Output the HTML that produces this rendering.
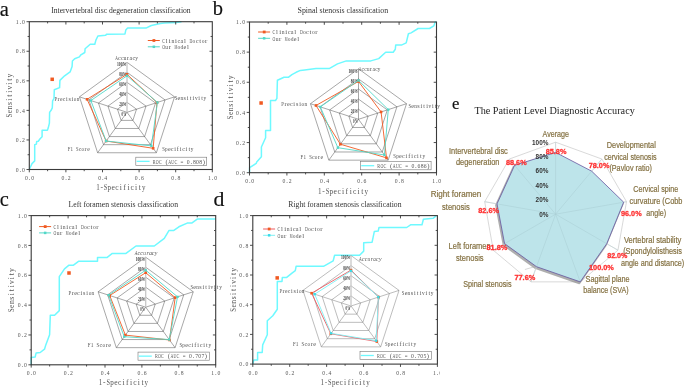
<!DOCTYPE html>
<html><head><meta charset="utf-8"><style>
html,body{margin:0;padding:0;background:#fff;width:685px;height:387px;overflow:hidden}
svg{display:block;will-change:transform}
</style></head><body>
<svg width="685" height="387" viewBox="0 0 685 387">
<defs><filter id="blur1" x="-10%" y="-10%" width="120%" height="120%"><feGaussianBlur stdDeviation="0.7"/></filter></defs>
<rect width="685" height="387" fill="#fff"/>
<polyline points="29.3,169.5 32,163.6 34.7,160.9 34.7,144.8 36.4,144.1 36.7,141.4 38.3,141.2 40.1,138.8 42.1,136.8 42.1,130.3 47.4,130.3 48.2,128.1 49.4,123.1 49.6,112.4 51.1,110.3 52.3,107.9 52.6,100.8 54,98.4 54.3,89.7 59.6,87.6 59.9,80.4 64.6,75.8 70.1,71.9 72.1,66.5 72.4,61 74.7,58.7 79.4,56.9 80.9,54.8 84.8,52.5 85.1,48.7 90.2,44.3 94.8,44.3 95.9,40.1 97.9,36 105.7,35.2 106.5,34.2 125,33.9 125.8,30.1 127.6,28.1 146,28.1 151.3,25.5 160.5,23.5 164.4,22.9 176.2,22.6 181.5,21.8" fill="none" stroke="#6ef9ff" stroke-width="1.5" stroke-linejoin="round"/>
<rect x="29.3" y="21.7" width="183" height="147.8" fill="none" stroke="#3a3a3a" stroke-width="1.1"/>
<line x1="29.3" y1="169.5" x2="29.3" y2="172.3" stroke="#3a3a3a" stroke-width="0.9"/>
<line x1="29.3" y1="169.5" x2="26.5" y2="169.5" stroke="#3a3a3a" stroke-width="0.9"/>
<text x="19.54" y="171.7" font-family='"Liberation Serif", serif' font-size="6.5" fill="#555">.</text>
<text x="15.82" y="171.7" font-family='"Liberation Serif", serif' font-size="6.5" fill="#555" textLength="2.85" lengthAdjust="spacingAndGlyphs">0</text>
<text x="22.02" y="171.7" font-family='"Liberation Serif", serif' font-size="6.5" fill="#555" textLength="2.85" lengthAdjust="spacingAndGlyphs">0</text>
<text x="28.69" y="179.9" font-family='"Liberation Serif", serif' font-size="6.5" fill="#555">.</text>
<text x="24.97" y="179.9" font-family='"Liberation Serif", serif' font-size="6.5" fill="#555" textLength="2.85" lengthAdjust="spacingAndGlyphs">0</text>
<text x="31.17" y="179.9" font-family='"Liberation Serif", serif' font-size="6.5" fill="#555" textLength="2.85" lengthAdjust="spacingAndGlyphs">0</text>
<line x1="47.6" y1="169.5" x2="47.6" y2="171.2" stroke="#3a3a3a" stroke-width="0.9"/>
<line x1="47.6" y1="21.7" x2="47.6" y2="23.4" stroke="#3a3a3a" stroke-width="0.9"/>
<line x1="29.3" y1="154.72" x2="27.6" y2="154.72" stroke="#3a3a3a" stroke-width="0.9"/>
<line x1="212.3" y1="154.72" x2="210.6" y2="154.72" stroke="#3a3a3a" stroke-width="0.9"/>
<line x1="65.9" y1="169.5" x2="65.9" y2="172.3" stroke="#3a3a3a" stroke-width="0.9"/>
<line x1="65.9" y1="21.7" x2="65.9" y2="24.5" stroke="#3a3a3a" stroke-width="0.9"/>
<line x1="29.3" y1="139.94" x2="26.5" y2="139.94" stroke="#3a3a3a" stroke-width="0.9"/>
<line x1="212.3" y1="139.94" x2="209.5" y2="139.94" stroke="#3a3a3a" stroke-width="0.9"/>
<text x="19.54" y="142.14" font-family='"Liberation Serif", serif' font-size="6.5" fill="#555">.</text>
<text x="15.82" y="142.14" font-family='"Liberation Serif", serif' font-size="6.5" fill="#555" textLength="2.85" lengthAdjust="spacingAndGlyphs">0</text>
<text x="22.02" y="142.14" font-family='"Liberation Serif", serif' font-size="6.5" fill="#555" textLength="2.85" lengthAdjust="spacingAndGlyphs">2</text>
<text x="65.29" y="179.9" font-family='"Liberation Serif", serif' font-size="6.5" fill="#555">.</text>
<text x="61.57" y="179.9" font-family='"Liberation Serif", serif' font-size="6.5" fill="#555" textLength="2.85" lengthAdjust="spacingAndGlyphs">0</text>
<text x="67.77" y="179.9" font-family='"Liberation Serif", serif' font-size="6.5" fill="#555" textLength="2.85" lengthAdjust="spacingAndGlyphs">2</text>
<line x1="84.2" y1="169.5" x2="84.2" y2="171.2" stroke="#3a3a3a" stroke-width="0.9"/>
<line x1="84.2" y1="21.7" x2="84.2" y2="23.4" stroke="#3a3a3a" stroke-width="0.9"/>
<line x1="29.3" y1="125.16" x2="27.6" y2="125.16" stroke="#3a3a3a" stroke-width="0.9"/>
<line x1="212.3" y1="125.16" x2="210.6" y2="125.16" stroke="#3a3a3a" stroke-width="0.9"/>
<line x1="102.5" y1="169.5" x2="102.5" y2="172.3" stroke="#3a3a3a" stroke-width="0.9"/>
<line x1="102.5" y1="21.7" x2="102.5" y2="24.5" stroke="#3a3a3a" stroke-width="0.9"/>
<line x1="29.3" y1="110.38" x2="26.5" y2="110.38" stroke="#3a3a3a" stroke-width="0.9"/>
<line x1="212.3" y1="110.38" x2="209.5" y2="110.38" stroke="#3a3a3a" stroke-width="0.9"/>
<text x="19.54" y="112.58" font-family='"Liberation Serif", serif' font-size="6.5" fill="#555">.</text>
<text x="15.82" y="112.58" font-family='"Liberation Serif", serif' font-size="6.5" fill="#555" textLength="2.85" lengthAdjust="spacingAndGlyphs">0</text>
<text x="22.02" y="112.58" font-family='"Liberation Serif", serif' font-size="6.5" fill="#555" textLength="2.85" lengthAdjust="spacingAndGlyphs">4</text>
<text x="101.89" y="179.9" font-family='"Liberation Serif", serif' font-size="6.5" fill="#555">.</text>
<text x="98.17" y="179.9" font-family='"Liberation Serif", serif' font-size="6.5" fill="#555" textLength="2.85" lengthAdjust="spacingAndGlyphs">0</text>
<text x="104.37" y="179.9" font-family='"Liberation Serif", serif' font-size="6.5" fill="#555" textLength="2.85" lengthAdjust="spacingAndGlyphs">4</text>
<line x1="120.8" y1="169.5" x2="120.8" y2="171.2" stroke="#3a3a3a" stroke-width="0.9"/>
<line x1="120.8" y1="21.7" x2="120.8" y2="23.4" stroke="#3a3a3a" stroke-width="0.9"/>
<line x1="29.3" y1="95.6" x2="27.6" y2="95.6" stroke="#3a3a3a" stroke-width="0.9"/>
<line x1="212.3" y1="95.6" x2="210.6" y2="95.6" stroke="#3a3a3a" stroke-width="0.9"/>
<line x1="139.1" y1="169.5" x2="139.1" y2="172.3" stroke="#3a3a3a" stroke-width="0.9"/>
<line x1="139.1" y1="21.7" x2="139.1" y2="24.5" stroke="#3a3a3a" stroke-width="0.9"/>
<line x1="29.3" y1="80.82" x2="26.5" y2="80.82" stroke="#3a3a3a" stroke-width="0.9"/>
<line x1="212.3" y1="80.82" x2="209.5" y2="80.82" stroke="#3a3a3a" stroke-width="0.9"/>
<text x="19.54" y="83.02" font-family='"Liberation Serif", serif' font-size="6.5" fill="#555">.</text>
<text x="15.82" y="83.02" font-family='"Liberation Serif", serif' font-size="6.5" fill="#555" textLength="2.85" lengthAdjust="spacingAndGlyphs">0</text>
<text x="22.02" y="83.02" font-family='"Liberation Serif", serif' font-size="6.5" fill="#555" textLength="2.85" lengthAdjust="spacingAndGlyphs">6</text>
<text x="138.49" y="179.9" font-family='"Liberation Serif", serif' font-size="6.5" fill="#555">.</text>
<text x="134.77" y="179.9" font-family='"Liberation Serif", serif' font-size="6.5" fill="#555" textLength="2.85" lengthAdjust="spacingAndGlyphs">0</text>
<text x="140.97" y="179.9" font-family='"Liberation Serif", serif' font-size="6.5" fill="#555" textLength="2.85" lengthAdjust="spacingAndGlyphs">6</text>
<line x1="157.4" y1="169.5" x2="157.4" y2="171.2" stroke="#3a3a3a" stroke-width="0.9"/>
<line x1="157.4" y1="21.7" x2="157.4" y2="23.4" stroke="#3a3a3a" stroke-width="0.9"/>
<line x1="29.3" y1="66.04" x2="27.6" y2="66.04" stroke="#3a3a3a" stroke-width="0.9"/>
<line x1="212.3" y1="66.04" x2="210.6" y2="66.04" stroke="#3a3a3a" stroke-width="0.9"/>
<line x1="175.7" y1="169.5" x2="175.7" y2="172.3" stroke="#3a3a3a" stroke-width="0.9"/>
<line x1="175.7" y1="21.7" x2="175.7" y2="24.5" stroke="#3a3a3a" stroke-width="0.9"/>
<line x1="29.3" y1="51.26" x2="26.5" y2="51.26" stroke="#3a3a3a" stroke-width="0.9"/>
<line x1="212.3" y1="51.26" x2="209.5" y2="51.26" stroke="#3a3a3a" stroke-width="0.9"/>
<text x="19.54" y="53.46" font-family='"Liberation Serif", serif' font-size="6.5" fill="#555">.</text>
<text x="15.82" y="53.46" font-family='"Liberation Serif", serif' font-size="6.5" fill="#555" textLength="2.85" lengthAdjust="spacingAndGlyphs">0</text>
<text x="22.02" y="53.46" font-family='"Liberation Serif", serif' font-size="6.5" fill="#555" textLength="2.85" lengthAdjust="spacingAndGlyphs">8</text>
<text x="175.09" y="179.9" font-family='"Liberation Serif", serif' font-size="6.5" fill="#555">.</text>
<text x="171.37" y="179.9" font-family='"Liberation Serif", serif' font-size="6.5" fill="#555" textLength="2.85" lengthAdjust="spacingAndGlyphs">0</text>
<text x="177.57" y="179.9" font-family='"Liberation Serif", serif' font-size="6.5" fill="#555" textLength="2.85" lengthAdjust="spacingAndGlyphs">8</text>
<line x1="194" y1="169.5" x2="194" y2="171.2" stroke="#3a3a3a" stroke-width="0.9"/>
<line x1="194" y1="21.7" x2="194" y2="23.4" stroke="#3a3a3a" stroke-width="0.9"/>
<line x1="29.3" y1="36.48" x2="27.6" y2="36.48" stroke="#3a3a3a" stroke-width="0.9"/>
<line x1="212.3" y1="36.48" x2="210.6" y2="36.48" stroke="#3a3a3a" stroke-width="0.9"/>
<line x1="212.3" y1="169.5" x2="212.3" y2="172.3" stroke="#3a3a3a" stroke-width="0.9"/>
<line x1="29.3" y1="21.7" x2="26.5" y2="21.7" stroke="#3a3a3a" stroke-width="0.9"/>
<text x="19.54" y="23.9" font-family='"Liberation Serif", serif' font-size="6.5" fill="#555">.</text>
<text x="15.82" y="23.9" font-family='"Liberation Serif", serif' font-size="6.5" fill="#555" textLength="2.85" lengthAdjust="spacingAndGlyphs">1</text>
<text x="22.02" y="23.9" font-family='"Liberation Serif", serif' font-size="6.5" fill="#555" textLength="2.85" lengthAdjust="spacingAndGlyphs">0</text>
<text x="211.69" y="179.9" font-family='"Liberation Serif", serif' font-size="6.5" fill="#555">.</text>
<text x="207.97" y="179.9" font-family='"Liberation Serif", serif' font-size="6.5" fill="#555" textLength="2.85" lengthAdjust="spacingAndGlyphs">1</text>
<text x="214.17" y="179.9" font-family='"Liberation Serif", serif' font-size="6.5" fill="#555" textLength="2.85" lengthAdjust="spacingAndGlyphs">0</text>
<text x="100.46 111.48 115.3 119.74 123.35 127.38 130.56 135.01 138.82" y="189.9" font-family='"Liberation Serif", serif' font-size="7.6" fill="#555">-ecificit</text>
<text x="96.15" y="189.9" font-family='"Liberation Serif", serif' font-size="7.6" fill="#555" textLength="3.51" lengthAdjust="spacingAndGlyphs">1</text>
<text x="103.78" y="189.9" font-family='"Liberation Serif", serif' font-size="7.6" fill="#555" textLength="3.51" lengthAdjust="spacingAndGlyphs">S</text>
<text x="107.6" y="189.9" font-family='"Liberation Serif", serif' font-size="7.6" fill="#555" textLength="3.51" lengthAdjust="spacingAndGlyphs">p</text>
<text x="141.94" y="189.9" font-family='"Liberation Serif", serif' font-size="7.6" fill="#555" textLength="3.51" lengthAdjust="spacingAndGlyphs">y</text>
<g transform="translate(12.2,95.6) rotate(-90)">
<text x="-17.69 -13.9 -9.48 -5.06 -1.06 2.94 6.1 10.94 14.94 18.1" y="0" font-family='"Liberation Serif", serif' font-size="7.6" fill="#555">ensitivity</text>
<text x="-21.84" y="0" font-family='"Liberation Serif", serif' font-size="7.6" fill="#555" textLength="3.68" lengthAdjust="spacingAndGlyphs">S</text>
</g>
<rect x="50.45" y="77.55" width="3.5" height="3.5" fill="#f05a22"/>
<line x1="147.8" y1="40.5" x2="159.8" y2="40.5" stroke="#f05a22" stroke-width="1"/>
<rect x="152.5" y="39.1" width="2.8" height="2.8" fill="#f05a22"/>
<line x1="147.8" y1="46.8" x2="159.8" y2="46.8" stroke="#52d8c8" stroke-width="1"/>
<rect x="152.6" y="45.55" width="2.5" height="2.5" fill="#52d8c8"/>
<text x="165.8 168.83 174.89 183.98 199.13 205" y="42.8" font-family='"Liberation Serif", serif' font-size="6.8" fill="#555">liiltr</text>
<text x="162.32" y="42.8" font-family='"Liberation Serif", serif' font-size="6.8" fill="#555" textLength="2.79" lengthAdjust="spacingAndGlyphs">C</text>
<text x="171.41" y="42.8" font-family='"Liberation Serif", serif' font-size="6.8" fill="#555" textLength="2.79" lengthAdjust="spacingAndGlyphs">n</text>
<text x="177.47" y="42.8" font-family='"Liberation Serif", serif' font-size="6.8" fill="#555" textLength="2.79" lengthAdjust="spacingAndGlyphs">c</text>
<text x="180.5" y="42.8" font-family='"Liberation Serif", serif' font-size="6.8" fill="#555" textLength="2.79" lengthAdjust="spacingAndGlyphs">a</text>
<text x="189.59" y="42.8" font-family='"Liberation Serif", serif' font-size="6.8" fill="#555" textLength="2.79" lengthAdjust="spacingAndGlyphs">D</text>
<text x="192.62" y="42.8" font-family='"Liberation Serif", serif' font-size="6.8" fill="#555" textLength="2.79" lengthAdjust="spacingAndGlyphs">o</text>
<text x="195.65" y="42.8" font-family='"Liberation Serif", serif' font-size="6.8" fill="#555" textLength="2.79" lengthAdjust="spacingAndGlyphs">c</text>
<text x="201.71" y="42.8" font-family='"Liberation Serif", serif' font-size="6.8" fill="#555" textLength="2.79" lengthAdjust="spacingAndGlyphs">o</text>
<text x="168.64 187.01" y="49.1" font-family='"Liberation Serif", serif' font-size="6.8" fill="#555">rl</text>
<text x="162.32" y="49.1" font-family='"Liberation Serif", serif' font-size="6.8" fill="#555" textLength="2.79" lengthAdjust="spacingAndGlyphs">O</text>
<text x="165.35" y="49.1" font-family='"Liberation Serif", serif' font-size="6.8" fill="#555" textLength="2.79" lengthAdjust="spacingAndGlyphs">u</text>
<text x="174.44" y="49.1" font-family='"Liberation Serif", serif' font-size="6.8" fill="#555" textLength="2.79" lengthAdjust="spacingAndGlyphs">M</text>
<text x="177.47" y="49.1" font-family='"Liberation Serif", serif' font-size="6.8" fill="#555" textLength="2.79" lengthAdjust="spacingAndGlyphs">o</text>
<text x="180.5" y="49.1" font-family='"Liberation Serif", serif' font-size="6.8" fill="#555" textLength="2.79" lengthAdjust="spacingAndGlyphs">d</text>
<text x="183.53" y="49.1" font-family='"Liberation Serif", serif' font-size="6.8" fill="#555" textLength="2.79" lengthAdjust="spacingAndGlyphs">e</text>
<rect x="135.8" y="157.2" width="70.9" height="8.3" fill="#fff" stroke="#777" stroke-width="0.6"/>
<line x1="136.6" y1="161.35" x2="149.6" y2="161.35" stroke="#6ef9ff" stroke-width="1.3"/>
<text x="165.43 190.51 202.63" y="163.65" font-family='"Liberation Serif", serif' font-size="6.7" fill="#555">(.)</text>
<text x="152.72" y="163.65" font-family='"Liberation Serif", serif' font-size="6.7" fill="#555" textLength="2.85" lengthAdjust="spacingAndGlyphs">R</text>
<text x="155.82" y="163.65" font-family='"Liberation Serif", serif' font-size="6.7" fill="#555" textLength="2.85" lengthAdjust="spacingAndGlyphs">O</text>
<text x="158.92" y="163.65" font-family='"Liberation Serif", serif' font-size="6.7" fill="#555" textLength="2.85" lengthAdjust="spacingAndGlyphs">C</text>
<text x="168.22" y="163.65" font-family='"Liberation Serif", serif' font-size="6.7" fill="#555" textLength="2.85" lengthAdjust="spacingAndGlyphs">A</text>
<text x="171.32" y="163.65" font-family='"Liberation Serif", serif' font-size="6.7" fill="#555" textLength="2.85" lengthAdjust="spacingAndGlyphs">U</text>
<text x="174.42" y="163.65" font-family='"Liberation Serif", serif' font-size="6.7" fill="#555" textLength="2.85" lengthAdjust="spacingAndGlyphs">C</text>
<text x="180.62" y="163.65" font-family='"Liberation Serif", serif' font-size="6.7" fill="#555" textLength="2.85" lengthAdjust="spacingAndGlyphs">=</text>
<text x="186.82" y="163.65" font-family='"Liberation Serif", serif' font-size="6.7" fill="#555" textLength="2.85" lengthAdjust="spacingAndGlyphs">0</text>
<text x="193.02" y="163.65" font-family='"Liberation Serif", serif' font-size="6.7" fill="#555" textLength="2.85" lengthAdjust="spacingAndGlyphs">8</text>
<text x="196.12" y="163.65" font-family='"Liberation Serif", serif' font-size="6.7" fill="#555" textLength="2.85" lengthAdjust="spacingAndGlyphs">0</text>
<text x="199.22" y="163.65" font-family='"Liberation Serif", serif' font-size="6.7" fill="#555" textLength="2.85" lengthAdjust="spacingAndGlyphs">8</text>
<text x="51.2" y="13.3" font-family='"Liberation Serif", serif' font-size="8.6" text-anchor="start" fill="#333" font-weight="normal" textLength="139.5" lengthAdjust="spacingAndGlyphs">Intervertebral disc degeneration classification</text>
<text x="-0.3" y="15.5" font-family='"Liberation Serif", serif' font-size="20.5" text-anchor="start" fill="#111" font-weight="normal" stroke="#111" stroke-width="0.15">a</text>
<polygon points="127,102.3 136.51,109.21 132.88,120.39 121.12,120.39 117.49,109.21" fill="none" stroke="#505050" stroke-width="0.5" stroke-linejoin="round"/>
<polygon points="127,92.3 146.02,106.12 138.76,128.48 115.24,128.48 107.98,106.12" fill="none" stroke="#505050" stroke-width="0.5" stroke-linejoin="round"/>
<polygon points="127,82.3 155.53,103.03 144.63,136.57 109.37,136.57 98.47,103.03" fill="none" stroke="#505050" stroke-width="0.5" stroke-linejoin="round"/>
<polygon points="127,72.3 165.04,99.94 150.51,144.66 103.49,144.66 88.96,99.94" fill="none" stroke="#505050" stroke-width="0.5" stroke-linejoin="round"/>
<polygon points="127,62.3 174.55,96.85 156.39,152.75 97.61,152.75 79.45,96.85" fill="none" stroke="#505050" stroke-width="0.5" stroke-linejoin="round"/>
<line x1="127" y1="112.3" x2="174.55" y2="96.85" stroke="#505050" stroke-width="0.5"/>
<line x1="127" y1="112.3" x2="156.39" y2="152.75" stroke="#505050" stroke-width="0.5"/>
<line x1="127" y1="112.3" x2="97.61" y2="152.75" stroke="#505050" stroke-width="0.5"/>
<line x1="127" y1="112.3" x2="79.45" y2="96.85" stroke="#505050" stroke-width="0.5"/>
<line x1="127" y1="112.3" x2="127" y2="62.3" stroke="#c8c8c8" stroke-width="1.3"/>
<text x="126.2" y="116.2" font-family='"Liberation Serif", serif' font-size="5.3" text-anchor="end" fill="#3a3a3a" font-weight="bold" textLength="4.6" lengthAdjust="spacingAndGlyphs">0%</text>
<text x="126.2" y="106.2" font-family='"Liberation Serif", serif' font-size="5.3" text-anchor="end" fill="#3a3a3a" font-weight="bold" textLength="6.9" lengthAdjust="spacingAndGlyphs">20%</text>
<text x="126.2" y="96.2" font-family='"Liberation Serif", serif' font-size="5.3" text-anchor="end" fill="#3a3a3a" font-weight="bold" textLength="6.9" lengthAdjust="spacingAndGlyphs">40%</text>
<text x="126.2" y="86.2" font-family='"Liberation Serif", serif' font-size="5.3" text-anchor="end" fill="#3a3a3a" font-weight="bold" textLength="6.9" lengthAdjust="spacingAndGlyphs">60%</text>
<text x="126.2" y="76.2" font-family='"Liberation Serif", serif' font-size="5.3" text-anchor="end" fill="#3a3a3a" font-weight="bold" textLength="6.9" lengthAdjust="spacingAndGlyphs">80%</text>
<text x="126.2" y="66.2" font-family='"Liberation Serif", serif' font-size="5.3" text-anchor="end" fill="#3a3a3a" font-weight="bold" textLength="9.2" lengthAdjust="spacingAndGlyphs">100%</text>
<polygon points="127,74.3 156.96,102.57 153.16,148.3 106.13,141.02 87.06,99.32" fill="none" stroke="#f05a22" stroke-width="0.9" stroke-linejoin="round"/>
<rect x="125.7" y="73" width="2.6" height="2.6" fill="#f05a22"/>
<rect x="155.66" y="101.27" width="2.6" height="2.6" fill="#f05a22"/>
<rect x="151.86" y="147" width="2.6" height="2.6" fill="#f05a22"/>
<rect x="104.83" y="139.72" width="2.6" height="2.6" fill="#f05a22"/>
<rect x="85.76" y="98.02" width="2.6" height="2.6" fill="#f05a22"/>
<polygon points="127,75.8 157.43,102.41 151.39,145.87 106.13,141.02 90.86,100.56" fill="none" stroke="#52d8c8" stroke-width="0.9" stroke-linejoin="round"/>
<rect x="125.85" y="74.65" width="2.3" height="2.3" fill="#52d8c8"/>
<rect x="156.28" y="101.26" width="2.3" height="2.3" fill="#52d8c8"/>
<rect x="150.24" y="144.72" width="2.3" height="2.3" fill="#52d8c8"/>
<rect x="104.98" y="139.87" width="2.3" height="2.3" fill="#52d8c8"/>
<rect x="89.71" y="99.41" width="2.3" height="2.3" fill="#52d8c8"/>
<text x="118.06 120.93 127.02 129.56 132.43" y="60" font-family='"Liberation Serif", serif' font-size="6.1" fill="#555">ccrac</text>
<text x="115.21" y="60" font-family='"Liberation Serif", serif' font-size="6.1" fill="#555" textLength="2.65" lengthAdjust="spacingAndGlyphs">A</text>
<text x="123.84" y="60" font-family='"Liberation Serif", serif' font-size="6.1" fill="#555" textLength="2.65" lengthAdjust="spacingAndGlyphs">u</text>
<text x="135.34" y="60" font-family='"Liberation Serif", serif' font-size="6.1" fill="#555" textLength="2.65" lengthAdjust="spacingAndGlyphs">y</text>
<text x="177.58 183.53 186.76 189.65 192.54 198.33 201.22" y="100.2" font-family='"Liberation Serif", serif' font-size="6.1" fill="#555">esitiit</text>
<text x="174.72" y="100.2" font-family='"Liberation Serif", serif' font-size="6.1" fill="#555" textLength="2.66" lengthAdjust="spacingAndGlyphs">S</text>
<text x="180.5" y="100.2" font-family='"Liberation Serif", serif' font-size="6.1" fill="#555" textLength="2.66" lengthAdjust="spacingAndGlyphs">n</text>
<text x="194.95" y="100.2" font-family='"Liberation Serif", serif' font-size="6.1" fill="#555" textLength="2.66" lengthAdjust="spacingAndGlyphs">v</text>
<text x="203.62" y="100.2" font-family='"Liberation Serif", serif' font-size="6.1" fill="#555" textLength="2.66" lengthAdjust="spacingAndGlyphs">y</text>
<text x="167.91 170.77 174.14 176.83 179.87 182.22 185.59 188.46" y="151" font-family='"Liberation Serif", serif' font-size="6.1" fill="#555">ecificit</text>
<text x="162.21" y="151" font-family='"Liberation Serif", serif' font-size="6.1" fill="#555" textLength="2.63" lengthAdjust="spacingAndGlyphs">S</text>
<text x="165.08" y="151" font-family='"Liberation Serif", serif' font-size="6.1" fill="#555" textLength="2.63" lengthAdjust="spacingAndGlyphs">p</text>
<text x="190.85" y="151" font-family='"Liberation Serif", serif' font-size="6.1" fill="#555" textLength="2.63" lengthAdjust="spacingAndGlyphs">y</text>
<text x="84.62" y="151" font-family='"Liberation Serif", serif' font-size="6.1" fill="#555">r</text>
<text x="67.71" y="151" font-family='"Liberation Serif", serif' font-size="6.1" fill="#555" textLength="2.55" lengthAdjust="spacingAndGlyphs">F</text>
<text x="70.49" y="151" font-family='"Liberation Serif", serif' font-size="6.1" fill="#555" textLength="2.55" lengthAdjust="spacingAndGlyphs">1</text>
<text x="76.04" y="151" font-family='"Liberation Serif", serif' font-size="6.1" fill="#555" textLength="2.55" lengthAdjust="spacingAndGlyphs">S</text>
<text x="78.81" y="151" font-family='"Liberation Serif", serif' font-size="6.1" fill="#555" textLength="2.55" lengthAdjust="spacingAndGlyphs">c</text>
<text x="81.59" y="151" font-family='"Liberation Serif", serif' font-size="6.1" fill="#555" textLength="2.55" lengthAdjust="spacingAndGlyphs">o</text>
<text x="87.14" y="151" font-family='"Liberation Serif", serif' font-size="6.1" fill="#555" textLength="2.55" lengthAdjust="spacingAndGlyphs">e</text>
<text x="57.45 65.95 68.39 71.51" y="101.2" font-family='"Liberation Serif", serif' font-size="6.1" fill="#555">risi</text>
<text x="54.41" y="101.2" font-family='"Liberation Serif", serif' font-size="6.1" fill="#555" textLength="2.56" lengthAdjust="spacingAndGlyphs">P</text>
<text x="59.97" y="101.2" font-family='"Liberation Serif", serif' font-size="6.1" fill="#555" textLength="2.56" lengthAdjust="spacingAndGlyphs">e</text>
<text x="62.74" y="101.2" font-family='"Liberation Serif", serif' font-size="6.1" fill="#555" textLength="2.56" lengthAdjust="spacingAndGlyphs">c</text>
<text x="73.86" y="101.2" font-family='"Liberation Serif", serif' font-size="6.1" fill="#555" textLength="2.56" lengthAdjust="spacingAndGlyphs">o</text>
<text x="76.63" y="101.2" font-family='"Liberation Serif", serif' font-size="6.1" fill="#555" textLength="2.56" lengthAdjust="spacingAndGlyphs">n</text>
<polyline points="249.5,172.7 249.6,167.7 256.2,163.4 256.7,162 261.4,156.7 261.4,147 265.6,137.8 265.6,130.6 270.5,130.6 270.5,100.5 275.5,100.5 276.9,98.4 277.4,80.3 279.1,79.5 284,77.3 288.3,77.3 291.9,74.6 296.1,72.3 300.4,70.4 304.7,69.9 310.3,69.2 316,68.5 320,68.4 329.6,68.4 337.5,63.9 346.3,60.9 370.8,60.9 378.7,58.6 385.7,52.2 393.2,52.2 395.3,49.2 395.7,45.1 401.4,45.1 406.2,42.9 408.4,33.8 411.1,32.9 418.1,28.5 429.5,28.5 433.8,25.9 435.2,22 436.5,22" fill="none" stroke="#6ef9ff" stroke-width="1.5" stroke-linejoin="round"/>
<rect x="249.5" y="22" width="187" height="150.7" fill="none" stroke="#3a3a3a" stroke-width="1.1"/>
<line x1="249.5" y1="172.7" x2="249.5" y2="175.5" stroke="#3a3a3a" stroke-width="0.9"/>
<line x1="249.5" y1="172.7" x2="246.7" y2="172.7" stroke="#3a3a3a" stroke-width="0.9"/>
<text x="239.74" y="174.9" font-family='"Liberation Serif", serif' font-size="6.5" fill="#555">.</text>
<text x="236.02" y="174.9" font-family='"Liberation Serif", serif' font-size="6.5" fill="#555" textLength="2.85" lengthAdjust="spacingAndGlyphs">0</text>
<text x="242.22" y="174.9" font-family='"Liberation Serif", serif' font-size="6.5" fill="#555" textLength="2.85" lengthAdjust="spacingAndGlyphs">0</text>
<text x="248.89" y="183.1" font-family='"Liberation Serif", serif' font-size="6.5" fill="#555">.</text>
<text x="245.17" y="183.1" font-family='"Liberation Serif", serif' font-size="6.5" fill="#555" textLength="2.85" lengthAdjust="spacingAndGlyphs">0</text>
<text x="251.37" y="183.1" font-family='"Liberation Serif", serif' font-size="6.5" fill="#555" textLength="2.85" lengthAdjust="spacingAndGlyphs">0</text>
<line x1="268.2" y1="172.7" x2="268.2" y2="174.4" stroke="#3a3a3a" stroke-width="0.9"/>
<line x1="268.2" y1="22" x2="268.2" y2="23.7" stroke="#3a3a3a" stroke-width="0.9"/>
<line x1="249.5" y1="157.63" x2="247.8" y2="157.63" stroke="#3a3a3a" stroke-width="0.9"/>
<line x1="436.5" y1="157.63" x2="434.8" y2="157.63" stroke="#3a3a3a" stroke-width="0.9"/>
<line x1="286.9" y1="172.7" x2="286.9" y2="175.5" stroke="#3a3a3a" stroke-width="0.9"/>
<line x1="286.9" y1="22" x2="286.9" y2="24.8" stroke="#3a3a3a" stroke-width="0.9"/>
<line x1="249.5" y1="142.56" x2="246.7" y2="142.56" stroke="#3a3a3a" stroke-width="0.9"/>
<line x1="436.5" y1="142.56" x2="433.7" y2="142.56" stroke="#3a3a3a" stroke-width="0.9"/>
<text x="239.74" y="144.76" font-family='"Liberation Serif", serif' font-size="6.5" fill="#555">.</text>
<text x="236.02" y="144.76" font-family='"Liberation Serif", serif' font-size="6.5" fill="#555" textLength="2.85" lengthAdjust="spacingAndGlyphs">0</text>
<text x="242.22" y="144.76" font-family='"Liberation Serif", serif' font-size="6.5" fill="#555" textLength="2.85" lengthAdjust="spacingAndGlyphs">2</text>
<text x="286.29" y="183.1" font-family='"Liberation Serif", serif' font-size="6.5" fill="#555">.</text>
<text x="282.57" y="183.1" font-family='"Liberation Serif", serif' font-size="6.5" fill="#555" textLength="2.85" lengthAdjust="spacingAndGlyphs">0</text>
<text x="288.77" y="183.1" font-family='"Liberation Serif", serif' font-size="6.5" fill="#555" textLength="2.85" lengthAdjust="spacingAndGlyphs">2</text>
<line x1="305.6" y1="172.7" x2="305.6" y2="174.4" stroke="#3a3a3a" stroke-width="0.9"/>
<line x1="305.6" y1="22" x2="305.6" y2="23.7" stroke="#3a3a3a" stroke-width="0.9"/>
<line x1="249.5" y1="127.49" x2="247.8" y2="127.49" stroke="#3a3a3a" stroke-width="0.9"/>
<line x1="436.5" y1="127.49" x2="434.8" y2="127.49" stroke="#3a3a3a" stroke-width="0.9"/>
<line x1="324.3" y1="172.7" x2="324.3" y2="175.5" stroke="#3a3a3a" stroke-width="0.9"/>
<line x1="324.3" y1="22" x2="324.3" y2="24.8" stroke="#3a3a3a" stroke-width="0.9"/>
<line x1="249.5" y1="112.42" x2="246.7" y2="112.42" stroke="#3a3a3a" stroke-width="0.9"/>
<line x1="436.5" y1="112.42" x2="433.7" y2="112.42" stroke="#3a3a3a" stroke-width="0.9"/>
<text x="239.74" y="114.62" font-family='"Liberation Serif", serif' font-size="6.5" fill="#555">.</text>
<text x="236.02" y="114.62" font-family='"Liberation Serif", serif' font-size="6.5" fill="#555" textLength="2.85" lengthAdjust="spacingAndGlyphs">0</text>
<text x="242.22" y="114.62" font-family='"Liberation Serif", serif' font-size="6.5" fill="#555" textLength="2.85" lengthAdjust="spacingAndGlyphs">4</text>
<text x="323.69" y="183.1" font-family='"Liberation Serif", serif' font-size="6.5" fill="#555">.</text>
<text x="319.97" y="183.1" font-family='"Liberation Serif", serif' font-size="6.5" fill="#555" textLength="2.85" lengthAdjust="spacingAndGlyphs">0</text>
<text x="326.17" y="183.1" font-family='"Liberation Serif", serif' font-size="6.5" fill="#555" textLength="2.85" lengthAdjust="spacingAndGlyphs">4</text>
<line x1="343" y1="172.7" x2="343" y2="174.4" stroke="#3a3a3a" stroke-width="0.9"/>
<line x1="343" y1="22" x2="343" y2="23.7" stroke="#3a3a3a" stroke-width="0.9"/>
<line x1="249.5" y1="97.35" x2="247.8" y2="97.35" stroke="#3a3a3a" stroke-width="0.9"/>
<line x1="436.5" y1="97.35" x2="434.8" y2="97.35" stroke="#3a3a3a" stroke-width="0.9"/>
<line x1="361.7" y1="172.7" x2="361.7" y2="175.5" stroke="#3a3a3a" stroke-width="0.9"/>
<line x1="361.7" y1="22" x2="361.7" y2="24.8" stroke="#3a3a3a" stroke-width="0.9"/>
<line x1="249.5" y1="82.28" x2="246.7" y2="82.28" stroke="#3a3a3a" stroke-width="0.9"/>
<line x1="436.5" y1="82.28" x2="433.7" y2="82.28" stroke="#3a3a3a" stroke-width="0.9"/>
<text x="239.74" y="84.48" font-family='"Liberation Serif", serif' font-size="6.5" fill="#555">.</text>
<text x="236.02" y="84.48" font-family='"Liberation Serif", serif' font-size="6.5" fill="#555" textLength="2.85" lengthAdjust="spacingAndGlyphs">0</text>
<text x="242.22" y="84.48" font-family='"Liberation Serif", serif' font-size="6.5" fill="#555" textLength="2.85" lengthAdjust="spacingAndGlyphs">6</text>
<text x="361.09" y="183.1" font-family='"Liberation Serif", serif' font-size="6.5" fill="#555">.</text>
<text x="357.37" y="183.1" font-family='"Liberation Serif", serif' font-size="6.5" fill="#555" textLength="2.85" lengthAdjust="spacingAndGlyphs">0</text>
<text x="363.57" y="183.1" font-family='"Liberation Serif", serif' font-size="6.5" fill="#555" textLength="2.85" lengthAdjust="spacingAndGlyphs">6</text>
<line x1="380.4" y1="172.7" x2="380.4" y2="174.4" stroke="#3a3a3a" stroke-width="0.9"/>
<line x1="380.4" y1="22" x2="380.4" y2="23.7" stroke="#3a3a3a" stroke-width="0.9"/>
<line x1="249.5" y1="67.21" x2="247.8" y2="67.21" stroke="#3a3a3a" stroke-width="0.9"/>
<line x1="436.5" y1="67.21" x2="434.8" y2="67.21" stroke="#3a3a3a" stroke-width="0.9"/>
<line x1="399.1" y1="172.7" x2="399.1" y2="175.5" stroke="#3a3a3a" stroke-width="0.9"/>
<line x1="399.1" y1="22" x2="399.1" y2="24.8" stroke="#3a3a3a" stroke-width="0.9"/>
<line x1="249.5" y1="52.14" x2="246.7" y2="52.14" stroke="#3a3a3a" stroke-width="0.9"/>
<line x1="436.5" y1="52.14" x2="433.7" y2="52.14" stroke="#3a3a3a" stroke-width="0.9"/>
<text x="239.74" y="54.34" font-family='"Liberation Serif", serif' font-size="6.5" fill="#555">.</text>
<text x="236.02" y="54.34" font-family='"Liberation Serif", serif' font-size="6.5" fill="#555" textLength="2.85" lengthAdjust="spacingAndGlyphs">0</text>
<text x="242.22" y="54.34" font-family='"Liberation Serif", serif' font-size="6.5" fill="#555" textLength="2.85" lengthAdjust="spacingAndGlyphs">8</text>
<text x="398.49" y="183.1" font-family='"Liberation Serif", serif' font-size="6.5" fill="#555">.</text>
<text x="394.77" y="183.1" font-family='"Liberation Serif", serif' font-size="6.5" fill="#555" textLength="2.85" lengthAdjust="spacingAndGlyphs">0</text>
<text x="400.97" y="183.1" font-family='"Liberation Serif", serif' font-size="6.5" fill="#555" textLength="2.85" lengthAdjust="spacingAndGlyphs">8</text>
<line x1="417.8" y1="172.7" x2="417.8" y2="174.4" stroke="#3a3a3a" stroke-width="0.9"/>
<line x1="417.8" y1="22" x2="417.8" y2="23.7" stroke="#3a3a3a" stroke-width="0.9"/>
<line x1="249.5" y1="37.07" x2="247.8" y2="37.07" stroke="#3a3a3a" stroke-width="0.9"/>
<line x1="436.5" y1="37.07" x2="434.8" y2="37.07" stroke="#3a3a3a" stroke-width="0.9"/>
<line x1="436.5" y1="172.7" x2="436.5" y2="175.5" stroke="#3a3a3a" stroke-width="0.9"/>
<line x1="249.5" y1="22" x2="246.7" y2="22" stroke="#3a3a3a" stroke-width="0.9"/>
<text x="239.74" y="24.2" font-family='"Liberation Serif", serif' font-size="6.5" fill="#555">.</text>
<text x="236.02" y="24.2" font-family='"Liberation Serif", serif' font-size="6.5" fill="#555" textLength="2.85" lengthAdjust="spacingAndGlyphs">1</text>
<text x="242.22" y="24.2" font-family='"Liberation Serif", serif' font-size="6.5" fill="#555" textLength="2.85" lengthAdjust="spacingAndGlyphs">0</text>
<text x="435.89" y="183.1" font-family='"Liberation Serif", serif' font-size="6.5" fill="#555">.</text>
<text x="432.17" y="183.1" font-family='"Liberation Serif", serif' font-size="6.5" fill="#555" textLength="2.85" lengthAdjust="spacingAndGlyphs">1</text>
<text x="438.37" y="183.1" font-family='"Liberation Serif", serif' font-size="6.5" fill="#555" textLength="2.85" lengthAdjust="spacingAndGlyphs">0</text>
<text x="322.31 333.54 337.43 341.94 345.62 349.71 352.97 357.48 361.37" y="193.6" font-family='"Liberation Serif", serif' font-size="7.6" fill="#555">-ecificit</text>
<text x="317.91" y="193.6" font-family='"Liberation Serif", serif' font-size="7.6" fill="#555" textLength="3.57" lengthAdjust="spacingAndGlyphs">1</text>
<text x="325.67" y="193.6" font-family='"Liberation Serif", serif' font-size="7.6" fill="#555" textLength="3.57" lengthAdjust="spacingAndGlyphs">S</text>
<text x="329.56" y="193.6" font-family='"Liberation Serif", serif' font-size="7.6" fill="#555" textLength="3.57" lengthAdjust="spacingAndGlyphs">p</text>
<text x="364.52" y="193.6" font-family='"Liberation Serif", serif' font-size="7.6" fill="#555" textLength="3.57" lengthAdjust="spacingAndGlyphs">y</text>
<g transform="translate(232.8,97.35) rotate(-90)">
<text x="-17.69 -13.9 -9.48 -5.06 -1.06 2.94 6.1 10.94 14.94 18.1" y="0" font-family='"Liberation Serif", serif' font-size="7.6" fill="#555">ensitivity</text>
<text x="-21.84" y="0" font-family='"Liberation Serif", serif' font-size="7.6" fill="#555" textLength="3.68" lengthAdjust="spacingAndGlyphs">S</text>
</g>
<rect x="259.35" y="101.25" width="3.5" height="3.5" fill="#f05a22"/>
<line x1="258.1" y1="32" x2="270.1" y2="32" stroke="#f05a22" stroke-width="1"/>
<rect x="262.8" y="30.6" width="2.8" height="2.8" fill="#f05a22"/>
<line x1="258.1" y1="38.3" x2="270.1" y2="38.3" stroke="#52d8c8" stroke-width="1"/>
<rect x="262.9" y="37.05" width="2.5" height="2.5" fill="#52d8c8"/>
<text x="276.1 279.13 285.19 294.28 309.43 315.3" y="34.3" font-family='"Liberation Serif", serif' font-size="6.8" fill="#555">liiltr</text>
<text x="272.62" y="34.3" font-family='"Liberation Serif", serif' font-size="6.8" fill="#555" textLength="2.79" lengthAdjust="spacingAndGlyphs">C</text>
<text x="281.71" y="34.3" font-family='"Liberation Serif", serif' font-size="6.8" fill="#555" textLength="2.79" lengthAdjust="spacingAndGlyphs">n</text>
<text x="287.77" y="34.3" font-family='"Liberation Serif", serif' font-size="6.8" fill="#555" textLength="2.79" lengthAdjust="spacingAndGlyphs">c</text>
<text x="290.8" y="34.3" font-family='"Liberation Serif", serif' font-size="6.8" fill="#555" textLength="2.79" lengthAdjust="spacingAndGlyphs">a</text>
<text x="299.89" y="34.3" font-family='"Liberation Serif", serif' font-size="6.8" fill="#555" textLength="2.79" lengthAdjust="spacingAndGlyphs">D</text>
<text x="302.92" y="34.3" font-family='"Liberation Serif", serif' font-size="6.8" fill="#555" textLength="2.79" lengthAdjust="spacingAndGlyphs">o</text>
<text x="305.95" y="34.3" font-family='"Liberation Serif", serif' font-size="6.8" fill="#555" textLength="2.79" lengthAdjust="spacingAndGlyphs">c</text>
<text x="312.01" y="34.3" font-family='"Liberation Serif", serif' font-size="6.8" fill="#555" textLength="2.79" lengthAdjust="spacingAndGlyphs">o</text>
<text x="278.94 297.31" y="40.6" font-family='"Liberation Serif", serif' font-size="6.8" fill="#555">rl</text>
<text x="272.62" y="40.6" font-family='"Liberation Serif", serif' font-size="6.8" fill="#555" textLength="2.79" lengthAdjust="spacingAndGlyphs">O</text>
<text x="275.65" y="40.6" font-family='"Liberation Serif", serif' font-size="6.8" fill="#555" textLength="2.79" lengthAdjust="spacingAndGlyphs">u</text>
<text x="284.74" y="40.6" font-family='"Liberation Serif", serif' font-size="6.8" fill="#555" textLength="2.79" lengthAdjust="spacingAndGlyphs">M</text>
<text x="287.77" y="40.6" font-family='"Liberation Serif", serif' font-size="6.8" fill="#555" textLength="2.79" lengthAdjust="spacingAndGlyphs">o</text>
<text x="290.8" y="40.6" font-family='"Liberation Serif", serif' font-size="6.8" fill="#555" textLength="2.79" lengthAdjust="spacingAndGlyphs">d</text>
<text x="293.83" y="40.6" font-family='"Liberation Serif", serif' font-size="6.8" fill="#555" textLength="2.79" lengthAdjust="spacingAndGlyphs">e</text>
<rect x="360.4" y="161.6" width="70.7" height="8.2" fill="#fff" stroke="#777" stroke-width="0.6"/>
<line x1="361.2" y1="165.7" x2="374.2" y2="165.7" stroke="#6ef9ff" stroke-width="1.3"/>
<text x="390.03 415.11 427.23" y="168" font-family='"Liberation Serif", serif' font-size="6.7" fill="#555">(.)</text>
<text x="377.32" y="168" font-family='"Liberation Serif", serif' font-size="6.7" fill="#555" textLength="2.85" lengthAdjust="spacingAndGlyphs">R</text>
<text x="380.42" y="168" font-family='"Liberation Serif", serif' font-size="6.7" fill="#555" textLength="2.85" lengthAdjust="spacingAndGlyphs">O</text>
<text x="383.52" y="168" font-family='"Liberation Serif", serif' font-size="6.7" fill="#555" textLength="2.85" lengthAdjust="spacingAndGlyphs">C</text>
<text x="392.82" y="168" font-family='"Liberation Serif", serif' font-size="6.7" fill="#555" textLength="2.85" lengthAdjust="spacingAndGlyphs">A</text>
<text x="395.92" y="168" font-family='"Liberation Serif", serif' font-size="6.7" fill="#555" textLength="2.85" lengthAdjust="spacingAndGlyphs">U</text>
<text x="399.02" y="168" font-family='"Liberation Serif", serif' font-size="6.7" fill="#555" textLength="2.85" lengthAdjust="spacingAndGlyphs">C</text>
<text x="405.22" y="168" font-family='"Liberation Serif", serif' font-size="6.7" fill="#555" textLength="2.85" lengthAdjust="spacingAndGlyphs">=</text>
<text x="411.42" y="168" font-family='"Liberation Serif", serif' font-size="6.7" fill="#555" textLength="2.85" lengthAdjust="spacingAndGlyphs">0</text>
<text x="417.62" y="168" font-family='"Liberation Serif", serif' font-size="6.7" fill="#555" textLength="2.85" lengthAdjust="spacingAndGlyphs">6</text>
<text x="420.72" y="168" font-family='"Liberation Serif", serif' font-size="6.7" fill="#555" textLength="2.85" lengthAdjust="spacingAndGlyphs">8</text>
<text x="423.82" y="168" font-family='"Liberation Serif", serif' font-size="6.7" fill="#555" textLength="2.85" lengthAdjust="spacingAndGlyphs">6</text>
<text x="297.5" y="13.1" font-family='"Liberation Serif", serif' font-size="8.6" text-anchor="start" fill="#333" font-weight="normal" textLength="90.6" lengthAdjust="spacingAndGlyphs">Spinal stenosis classification</text>
<text x="212.7" y="15" font-family='"Liberation Serif", serif' font-size="20.5" text-anchor="start" fill="#111" font-weight="normal" stroke="#111" stroke-width="0.15">b</text>
<polygon points="358.5,109.2 368.11,116.18 364.44,127.47 352.56,127.47 348.89,116.18" fill="none" stroke="#505050" stroke-width="0.5" stroke-linejoin="round"/>
<polygon points="358.5,99.1 377.71,113.06 370.37,135.64 346.63,135.64 339.29,113.06" fill="none" stroke="#505050" stroke-width="0.5" stroke-linejoin="round"/>
<polygon points="358.5,89 387.32,109.94 376.31,143.81 340.69,143.81 329.68,109.94" fill="none" stroke="#505050" stroke-width="0.5" stroke-linejoin="round"/>
<polygon points="358.5,78.9 396.92,106.82 382.25,151.98 334.75,151.98 320.08,106.82" fill="none" stroke="#505050" stroke-width="0.5" stroke-linejoin="round"/>
<polygon points="358.5,68.8 406.53,103.69 388.18,160.16 328.82,160.16 310.47,103.69" fill="none" stroke="#505050" stroke-width="0.5" stroke-linejoin="round"/>
<line x1="358.5" y1="119.3" x2="406.53" y2="103.69" stroke="#505050" stroke-width="0.5"/>
<line x1="358.5" y1="119.3" x2="388.18" y2="160.16" stroke="#505050" stroke-width="0.5"/>
<line x1="358.5" y1="119.3" x2="328.82" y2="160.16" stroke="#505050" stroke-width="0.5"/>
<line x1="358.5" y1="119.3" x2="310.47" y2="103.69" stroke="#505050" stroke-width="0.5"/>
<line x1="358.5" y1="119.3" x2="358.5" y2="68.8" stroke="#505050" stroke-width="0.5"/>
<text x="357.7" y="123.2" font-family='"Liberation Serif", serif' font-size="5.3" text-anchor="end" fill="#3a3a3a" font-weight="bold" textLength="4.6" lengthAdjust="spacingAndGlyphs">0%</text>
<text x="357.7" y="113.1" font-family='"Liberation Serif", serif' font-size="5.3" text-anchor="end" fill="#3a3a3a" font-weight="bold" textLength="6.9" lengthAdjust="spacingAndGlyphs">20%</text>
<text x="357.7" y="103" font-family='"Liberation Serif", serif' font-size="5.3" text-anchor="end" fill="#3a3a3a" font-weight="bold" textLength="6.9" lengthAdjust="spacingAndGlyphs">40%</text>
<text x="357.7" y="92.9" font-family='"Liberation Serif", serif' font-size="5.3" text-anchor="end" fill="#3a3a3a" font-weight="bold" textLength="6.9" lengthAdjust="spacingAndGlyphs">60%</text>
<text x="357.7" y="82.8" font-family='"Liberation Serif", serif' font-size="5.3" text-anchor="end" fill="#3a3a3a" font-weight="bold" textLength="6.9" lengthAdjust="spacingAndGlyphs">80%</text>
<text x="357.7" y="72.7" font-family='"Liberation Serif", serif' font-size="5.3" text-anchor="end" fill="#3a3a3a" font-weight="bold" textLength="9.2" lengthAdjust="spacingAndGlyphs">100%</text>
<polygon points="358.5,81.42 381.07,111.97 386.52,157.87 340.39,144.22 315.99,105.49" fill="none" stroke="#f05a22" stroke-width="0.9" stroke-linejoin="round"/>
<rect x="357.2" y="80.12" width="2.6" height="2.6" fill="#f05a22"/>
<rect x="379.77" y="110.67" width="2.6" height="2.6" fill="#f05a22"/>
<rect x="385.22" y="156.57" width="2.6" height="2.6" fill="#f05a22"/>
<rect x="339.09" y="142.92" width="2.6" height="2.6" fill="#f05a22"/>
<rect x="314.69" y="104.19" width="2.6" height="2.6" fill="#f05a22"/>
<polygon points="358.5,80.41 388.28,109.62 384.41,154.97 337.87,147.69 320.32,106.89" fill="none" stroke="#52d8c8" stroke-width="0.9" stroke-linejoin="round"/>
<rect x="357.35" y="79.26" width="2.3" height="2.3" fill="#52d8c8"/>
<rect x="387.13" y="108.47" width="2.3" height="2.3" fill="#52d8c8"/>
<rect x="383.26" y="153.82" width="2.3" height="2.3" fill="#52d8c8"/>
<rect x="336.72" y="146.54" width="2.3" height="2.3" fill="#52d8c8"/>
<rect x="319.17" y="105.74" width="2.3" height="2.3" fill="#52d8c8"/>
<text x="369.9" y="70.5" font-family='"Liberation Serif", serif' font-size="6.1" fill="#555">r</text>
<text x="358.71" y="70.5" font-family='"Liberation Serif", serif' font-size="6.1" fill="#555" textLength="2.52" lengthAdjust="spacingAndGlyphs">A</text>
<text x="361.45" y="70.5" font-family='"Liberation Serif", serif' font-size="6.1" fill="#555" textLength="2.52" lengthAdjust="spacingAndGlyphs">c</text>
<text x="364.18" y="70.5" font-family='"Liberation Serif", serif' font-size="6.1" fill="#555" textLength="2.52" lengthAdjust="spacingAndGlyphs">c</text>
<text x="366.92" y="70.5" font-family='"Liberation Serif", serif' font-size="6.1" fill="#555" textLength="2.52" lengthAdjust="spacingAndGlyphs">u</text>
<text x="372.4" y="70.5" font-family='"Liberation Serif", serif' font-size="6.1" fill="#555" textLength="2.52" lengthAdjust="spacingAndGlyphs">a</text>
<text x="375.13" y="70.5" font-family='"Liberation Serif", serif' font-size="6.1" fill="#555" textLength="2.52" lengthAdjust="spacingAndGlyphs">c</text>
<text x="377.87" y="70.5" font-family='"Liberation Serif", serif' font-size="6.1" fill="#555" textLength="2.52" lengthAdjust="spacingAndGlyphs">y</text>
<text x="411.36 417.27 420.48 423.35 426.23 431.97 434.84" y="107.6" font-family='"Liberation Serif", serif' font-size="6.1" fill="#555">esitiit</text>
<text x="408.51" y="107.6" font-family='"Liberation Serif", serif' font-size="6.1" fill="#555" textLength="2.64" lengthAdjust="spacingAndGlyphs">S</text>
<text x="414.26" y="107.6" font-family='"Liberation Serif", serif' font-size="6.1" fill="#555" textLength="2.64" lengthAdjust="spacingAndGlyphs">n</text>
<text x="428.62" y="107.6" font-family='"Liberation Serif", serif' font-size="6.1" fill="#555" textLength="2.64" lengthAdjust="spacingAndGlyphs">v</text>
<text x="437.24" y="107.6" font-family='"Liberation Serif", serif' font-size="6.1" fill="#555" textLength="2.64" lengthAdjust="spacingAndGlyphs">y</text>
<text x="399.04 401.96 405.38 408.13 411.22 413.63 417.06 419.98" y="158.1" font-family='"Liberation Serif", serif' font-size="6.1" fill="#555">ecificit</text>
<text x="393.22" y="158.1" font-family='"Liberation Serif", serif' font-size="6.1" fill="#555" textLength="2.68" lengthAdjust="spacingAndGlyphs">S</text>
<text x="396.13" y="158.1" font-family='"Liberation Serif", serif' font-size="6.1" fill="#555" textLength="2.68" lengthAdjust="spacingAndGlyphs">p</text>
<text x="422.4" y="158.1" font-family='"Liberation Serif", serif' font-size="6.1" fill="#555" textLength="2.68" lengthAdjust="spacingAndGlyphs">y</text>
<text x="317.93" y="158.7" font-family='"Liberation Serif", serif' font-size="6.1" fill="#555">r</text>
<text x="300.61" y="158.7" font-family='"Liberation Serif", serif' font-size="6.1" fill="#555" textLength="2.61" lengthAdjust="spacingAndGlyphs">F</text>
<text x="303.45" y="158.7" font-family='"Liberation Serif", serif' font-size="6.1" fill="#555" textLength="2.61" lengthAdjust="spacingAndGlyphs">1</text>
<text x="309.13" y="158.7" font-family='"Liberation Serif", serif' font-size="6.1" fill="#555" textLength="2.61" lengthAdjust="spacingAndGlyphs">S</text>
<text x="311.96" y="158.7" font-family='"Liberation Serif", serif' font-size="6.1" fill="#555" textLength="2.61" lengthAdjust="spacingAndGlyphs">c</text>
<text x="314.8" y="158.7" font-family='"Liberation Serif", serif' font-size="6.1" fill="#555" textLength="2.61" lengthAdjust="spacingAndGlyphs">o</text>
<text x="320.48" y="158.7" font-family='"Liberation Serif", serif' font-size="6.1" fill="#555" textLength="2.61" lengthAdjust="spacingAndGlyphs">e</text>
<text x="284.52 287.07 289.96 293.35 295.9 299.13" y="106.2" font-family='"Liberation Serif", serif' font-size="6.1" fill="#555">recisi</text>
<text x="281.32" y="106.2" font-family='"Liberation Serif", serif' font-size="6.1" fill="#555" textLength="2.66" lengthAdjust="spacingAndGlyphs">P</text>
<text x="301.54" y="106.2" font-family='"Liberation Serif", serif' font-size="6.1" fill="#555" textLength="2.66" lengthAdjust="spacingAndGlyphs">o</text>
<text x="304.43" y="106.2" font-family='"Liberation Serif", serif' font-size="6.1" fill="#555" textLength="2.66" lengthAdjust="spacingAndGlyphs">n</text>
<polyline points="31.2,364.8 31.2,357.6 35.1,357.1 36.1,353 40.2,352.5 44.5,349.2 45.8,344.9 49.6,334.7 50.3,315.2 54.6,315.2 59.3,310.6 59.3,276.7 64.5,268.8 69,265.2 73.5,265.2 78.5,261.3 97.5,261.3 97.5,257.6 106.9,257.6 112.3,253.4 126,253.4 136,246 154.3,246 164.3,238.3 168.9,230.6 173.5,230.6 178.9,226.8 187.2,223.1 191.7,223.1 197.2,219.1 215.7,219.1" fill="none" stroke="#6ef9ff" stroke-width="1.5" stroke-linejoin="round"/>
<rect x="31.2" y="215.6" width="184.5" height="149.2" fill="none" stroke="#3a3a3a" stroke-width="1.1"/>
<line x1="31.2" y1="364.8" x2="31.2" y2="367.6" stroke="#3a3a3a" stroke-width="0.9"/>
<line x1="31.2" y1="364.8" x2="28.4" y2="364.8" stroke="#3a3a3a" stroke-width="0.9"/>
<text x="21.44" y="367" font-family='"Liberation Serif", serif' font-size="6.5" fill="#555">.</text>
<text x="17.72" y="367" font-family='"Liberation Serif", serif' font-size="6.5" fill="#555" textLength="2.85" lengthAdjust="spacingAndGlyphs">0</text>
<text x="23.92" y="367" font-family='"Liberation Serif", serif' font-size="6.5" fill="#555" textLength="2.85" lengthAdjust="spacingAndGlyphs">0</text>
<text x="30.59" y="375.2" font-family='"Liberation Serif", serif' font-size="6.5" fill="#555">.</text>
<text x="26.87" y="375.2" font-family='"Liberation Serif", serif' font-size="6.5" fill="#555" textLength="2.85" lengthAdjust="spacingAndGlyphs">0</text>
<text x="33.07" y="375.2" font-family='"Liberation Serif", serif' font-size="6.5" fill="#555" textLength="2.85" lengthAdjust="spacingAndGlyphs">0</text>
<line x1="49.65" y1="364.8" x2="49.65" y2="366.5" stroke="#3a3a3a" stroke-width="0.9"/>
<line x1="49.65" y1="215.6" x2="49.65" y2="217.3" stroke="#3a3a3a" stroke-width="0.9"/>
<line x1="31.2" y1="349.88" x2="29.5" y2="349.88" stroke="#3a3a3a" stroke-width="0.9"/>
<line x1="215.7" y1="349.88" x2="214" y2="349.88" stroke="#3a3a3a" stroke-width="0.9"/>
<line x1="68.1" y1="364.8" x2="68.1" y2="367.6" stroke="#3a3a3a" stroke-width="0.9"/>
<line x1="68.1" y1="215.6" x2="68.1" y2="218.4" stroke="#3a3a3a" stroke-width="0.9"/>
<line x1="31.2" y1="334.96" x2="28.4" y2="334.96" stroke="#3a3a3a" stroke-width="0.9"/>
<line x1="215.7" y1="334.96" x2="212.9" y2="334.96" stroke="#3a3a3a" stroke-width="0.9"/>
<text x="21.44" y="337.16" font-family='"Liberation Serif", serif' font-size="6.5" fill="#555">.</text>
<text x="17.72" y="337.16" font-family='"Liberation Serif", serif' font-size="6.5" fill="#555" textLength="2.85" lengthAdjust="spacingAndGlyphs">0</text>
<text x="23.92" y="337.16" font-family='"Liberation Serif", serif' font-size="6.5" fill="#555" textLength="2.85" lengthAdjust="spacingAndGlyphs">2</text>
<text x="67.49" y="375.2" font-family='"Liberation Serif", serif' font-size="6.5" fill="#555">.</text>
<text x="63.77" y="375.2" font-family='"Liberation Serif", serif' font-size="6.5" fill="#555" textLength="2.85" lengthAdjust="spacingAndGlyphs">0</text>
<text x="69.97" y="375.2" font-family='"Liberation Serif", serif' font-size="6.5" fill="#555" textLength="2.85" lengthAdjust="spacingAndGlyphs">2</text>
<line x1="86.55" y1="364.8" x2="86.55" y2="366.5" stroke="#3a3a3a" stroke-width="0.9"/>
<line x1="86.55" y1="215.6" x2="86.55" y2="217.3" stroke="#3a3a3a" stroke-width="0.9"/>
<line x1="31.2" y1="320.04" x2="29.5" y2="320.04" stroke="#3a3a3a" stroke-width="0.9"/>
<line x1="215.7" y1="320.04" x2="214" y2="320.04" stroke="#3a3a3a" stroke-width="0.9"/>
<line x1="105" y1="364.8" x2="105" y2="367.6" stroke="#3a3a3a" stroke-width="0.9"/>
<line x1="105" y1="215.6" x2="105" y2="218.4" stroke="#3a3a3a" stroke-width="0.9"/>
<line x1="31.2" y1="305.12" x2="28.4" y2="305.12" stroke="#3a3a3a" stroke-width="0.9"/>
<line x1="215.7" y1="305.12" x2="212.9" y2="305.12" stroke="#3a3a3a" stroke-width="0.9"/>
<text x="21.44" y="307.32" font-family='"Liberation Serif", serif' font-size="6.5" fill="#555">.</text>
<text x="17.72" y="307.32" font-family='"Liberation Serif", serif' font-size="6.5" fill="#555" textLength="2.85" lengthAdjust="spacingAndGlyphs">0</text>
<text x="23.92" y="307.32" font-family='"Liberation Serif", serif' font-size="6.5" fill="#555" textLength="2.85" lengthAdjust="spacingAndGlyphs">4</text>
<text x="104.39" y="375.2" font-family='"Liberation Serif", serif' font-size="6.5" fill="#555">.</text>
<text x="100.67" y="375.2" font-family='"Liberation Serif", serif' font-size="6.5" fill="#555" textLength="2.85" lengthAdjust="spacingAndGlyphs">0</text>
<text x="106.87" y="375.2" font-family='"Liberation Serif", serif' font-size="6.5" fill="#555" textLength="2.85" lengthAdjust="spacingAndGlyphs">4</text>
<line x1="123.45" y1="364.8" x2="123.45" y2="366.5" stroke="#3a3a3a" stroke-width="0.9"/>
<line x1="123.45" y1="215.6" x2="123.45" y2="217.3" stroke="#3a3a3a" stroke-width="0.9"/>
<line x1="31.2" y1="290.2" x2="29.5" y2="290.2" stroke="#3a3a3a" stroke-width="0.9"/>
<line x1="215.7" y1="290.2" x2="214" y2="290.2" stroke="#3a3a3a" stroke-width="0.9"/>
<line x1="141.9" y1="364.8" x2="141.9" y2="367.6" stroke="#3a3a3a" stroke-width="0.9"/>
<line x1="141.9" y1="215.6" x2="141.9" y2="218.4" stroke="#3a3a3a" stroke-width="0.9"/>
<line x1="31.2" y1="275.28" x2="28.4" y2="275.28" stroke="#3a3a3a" stroke-width="0.9"/>
<line x1="215.7" y1="275.28" x2="212.9" y2="275.28" stroke="#3a3a3a" stroke-width="0.9"/>
<text x="21.44" y="277.48" font-family='"Liberation Serif", serif' font-size="6.5" fill="#555">.</text>
<text x="17.72" y="277.48" font-family='"Liberation Serif", serif' font-size="6.5" fill="#555" textLength="2.85" lengthAdjust="spacingAndGlyphs">0</text>
<text x="23.92" y="277.48" font-family='"Liberation Serif", serif' font-size="6.5" fill="#555" textLength="2.85" lengthAdjust="spacingAndGlyphs">6</text>
<text x="141.29" y="375.2" font-family='"Liberation Serif", serif' font-size="6.5" fill="#555">.</text>
<text x="137.57" y="375.2" font-family='"Liberation Serif", serif' font-size="6.5" fill="#555" textLength="2.85" lengthAdjust="spacingAndGlyphs">0</text>
<text x="143.77" y="375.2" font-family='"Liberation Serif", serif' font-size="6.5" fill="#555" textLength="2.85" lengthAdjust="spacingAndGlyphs">6</text>
<line x1="160.35" y1="364.8" x2="160.35" y2="366.5" stroke="#3a3a3a" stroke-width="0.9"/>
<line x1="160.35" y1="215.6" x2="160.35" y2="217.3" stroke="#3a3a3a" stroke-width="0.9"/>
<line x1="31.2" y1="260.36" x2="29.5" y2="260.36" stroke="#3a3a3a" stroke-width="0.9"/>
<line x1="215.7" y1="260.36" x2="214" y2="260.36" stroke="#3a3a3a" stroke-width="0.9"/>
<line x1="178.8" y1="364.8" x2="178.8" y2="367.6" stroke="#3a3a3a" stroke-width="0.9"/>
<line x1="178.8" y1="215.6" x2="178.8" y2="218.4" stroke="#3a3a3a" stroke-width="0.9"/>
<line x1="31.2" y1="245.44" x2="28.4" y2="245.44" stroke="#3a3a3a" stroke-width="0.9"/>
<line x1="215.7" y1="245.44" x2="212.9" y2="245.44" stroke="#3a3a3a" stroke-width="0.9"/>
<text x="21.44" y="247.64" font-family='"Liberation Serif", serif' font-size="6.5" fill="#555">.</text>
<text x="17.72" y="247.64" font-family='"Liberation Serif", serif' font-size="6.5" fill="#555" textLength="2.85" lengthAdjust="spacingAndGlyphs">0</text>
<text x="23.92" y="247.64" font-family='"Liberation Serif", serif' font-size="6.5" fill="#555" textLength="2.85" lengthAdjust="spacingAndGlyphs">8</text>
<text x="178.19" y="375.2" font-family='"Liberation Serif", serif' font-size="6.5" fill="#555">.</text>
<text x="174.47" y="375.2" font-family='"Liberation Serif", serif' font-size="6.5" fill="#555" textLength="2.85" lengthAdjust="spacingAndGlyphs">0</text>
<text x="180.67" y="375.2" font-family='"Liberation Serif", serif' font-size="6.5" fill="#555" textLength="2.85" lengthAdjust="spacingAndGlyphs">8</text>
<line x1="197.25" y1="364.8" x2="197.25" y2="366.5" stroke="#3a3a3a" stroke-width="0.9"/>
<line x1="197.25" y1="215.6" x2="197.25" y2="217.3" stroke="#3a3a3a" stroke-width="0.9"/>
<line x1="31.2" y1="230.52" x2="29.5" y2="230.52" stroke="#3a3a3a" stroke-width="0.9"/>
<line x1="215.7" y1="230.52" x2="214" y2="230.52" stroke="#3a3a3a" stroke-width="0.9"/>
<line x1="215.7" y1="364.8" x2="215.7" y2="367.6" stroke="#3a3a3a" stroke-width="0.9"/>
<line x1="31.2" y1="215.6" x2="28.4" y2="215.6" stroke="#3a3a3a" stroke-width="0.9"/>
<text x="21.44" y="217.8" font-family='"Liberation Serif", serif' font-size="6.5" fill="#555">.</text>
<text x="17.72" y="217.8" font-family='"Liberation Serif", serif' font-size="6.5" fill="#555" textLength="2.85" lengthAdjust="spacingAndGlyphs">1</text>
<text x="23.92" y="217.8" font-family='"Liberation Serif", serif' font-size="6.5" fill="#555" textLength="2.85" lengthAdjust="spacingAndGlyphs">0</text>
<text x="215.09" y="375.2" font-family='"Liberation Serif", serif' font-size="6.5" fill="#555">.</text>
<text x="211.37" y="375.2" font-family='"Liberation Serif", serif' font-size="6.5" fill="#555" textLength="2.85" lengthAdjust="spacingAndGlyphs">1</text>
<text x="217.57" y="375.2" font-family='"Liberation Serif", serif' font-size="6.5" fill="#555" textLength="2.85" lengthAdjust="spacingAndGlyphs">0</text>
<text x="103.11 114.13 117.95 122.39 126 130.03 133.21 137.66 141.47" y="385" font-family='"Liberation Serif", serif' font-size="7.6" fill="#555">-ecificit</text>
<text x="98.8" y="385" font-family='"Liberation Serif", serif' font-size="7.6" fill="#555" textLength="3.51" lengthAdjust="spacingAndGlyphs">1</text>
<text x="106.43" y="385" font-family='"Liberation Serif", serif' font-size="7.6" fill="#555" textLength="3.51" lengthAdjust="spacingAndGlyphs">S</text>
<text x="110.25" y="385" font-family='"Liberation Serif", serif' font-size="7.6" fill="#555" textLength="3.51" lengthAdjust="spacingAndGlyphs">p</text>
<text x="144.59" y="385" font-family='"Liberation Serif", serif' font-size="7.6" fill="#555" textLength="3.51" lengthAdjust="spacingAndGlyphs">y</text>
<g transform="translate(13.8,290.2) rotate(-90)">
<text x="-17.69 -13.9 -9.48 -5.06 -1.06 2.94 6.1 10.94 14.94 18.1" y="0" font-family='"Liberation Serif", serif' font-size="7.6" fill="#555">ensitivity</text>
<text x="-21.84" y="0" font-family='"Liberation Serif", serif' font-size="7.6" fill="#555" textLength="3.68" lengthAdjust="spacingAndGlyphs">S</text>
</g>
<rect x="67.25" y="271.25" width="3.5" height="3.5" fill="#f05a22"/>
<line x1="39.1" y1="226.6" x2="51.1" y2="226.6" stroke="#f05a22" stroke-width="1"/>
<rect x="43.8" y="225.2" width="2.8" height="2.8" fill="#f05a22"/>
<line x1="39.1" y1="232.9" x2="51.1" y2="232.9" stroke="#52d8c8" stroke-width="1"/>
<rect x="43.9" y="231.65" width="2.5" height="2.5" fill="#52d8c8"/>
<text x="57.1 60.13 66.19 75.28 90.43 96.3" y="228.9" font-family='"Liberation Serif", serif' font-size="6.8" fill="#555">liiltr</text>
<text x="53.62" y="228.9" font-family='"Liberation Serif", serif' font-size="6.8" fill="#555" textLength="2.79" lengthAdjust="spacingAndGlyphs">C</text>
<text x="62.71" y="228.9" font-family='"Liberation Serif", serif' font-size="6.8" fill="#555" textLength="2.79" lengthAdjust="spacingAndGlyphs">n</text>
<text x="68.77" y="228.9" font-family='"Liberation Serif", serif' font-size="6.8" fill="#555" textLength="2.79" lengthAdjust="spacingAndGlyphs">c</text>
<text x="71.8" y="228.9" font-family='"Liberation Serif", serif' font-size="6.8" fill="#555" textLength="2.79" lengthAdjust="spacingAndGlyphs">a</text>
<text x="80.89" y="228.9" font-family='"Liberation Serif", serif' font-size="6.8" fill="#555" textLength="2.79" lengthAdjust="spacingAndGlyphs">D</text>
<text x="83.92" y="228.9" font-family='"Liberation Serif", serif' font-size="6.8" fill="#555" textLength="2.79" lengthAdjust="spacingAndGlyphs">o</text>
<text x="86.95" y="228.9" font-family='"Liberation Serif", serif' font-size="6.8" fill="#555" textLength="2.79" lengthAdjust="spacingAndGlyphs">c</text>
<text x="93.01" y="228.9" font-family='"Liberation Serif", serif' font-size="6.8" fill="#555" textLength="2.79" lengthAdjust="spacingAndGlyphs">o</text>
<text x="59.94 78.31" y="235.2" font-family='"Liberation Serif", serif' font-size="6.8" fill="#555">rl</text>
<text x="53.62" y="235.2" font-family='"Liberation Serif", serif' font-size="6.8" fill="#555" textLength="2.79" lengthAdjust="spacingAndGlyphs">O</text>
<text x="56.65" y="235.2" font-family='"Liberation Serif", serif' font-size="6.8" fill="#555" textLength="2.79" lengthAdjust="spacingAndGlyphs">u</text>
<text x="65.74" y="235.2" font-family='"Liberation Serif", serif' font-size="6.8" fill="#555" textLength="2.79" lengthAdjust="spacingAndGlyphs">M</text>
<text x="68.77" y="235.2" font-family='"Liberation Serif", serif' font-size="6.8" fill="#555" textLength="2.79" lengthAdjust="spacingAndGlyphs">o</text>
<text x="71.8" y="235.2" font-family='"Liberation Serif", serif' font-size="6.8" fill="#555" textLength="2.79" lengthAdjust="spacingAndGlyphs">d</text>
<text x="74.83" y="235.2" font-family='"Liberation Serif", serif' font-size="6.8" fill="#555" textLength="2.79" lengthAdjust="spacingAndGlyphs">e</text>
<rect x="138" y="352.1" width="71.3" height="8.1" fill="#fff" stroke="#777" stroke-width="0.6"/>
<line x1="138.8" y1="356.15" x2="151.8" y2="356.15" stroke="#6ef9ff" stroke-width="1.3"/>
<text x="167.63 192.71 204.83" y="358.45" font-family='"Liberation Serif", serif' font-size="6.7" fill="#555">(.)</text>
<text x="154.92" y="358.45" font-family='"Liberation Serif", serif' font-size="6.7" fill="#555" textLength="2.85" lengthAdjust="spacingAndGlyphs">R</text>
<text x="158.02" y="358.45" font-family='"Liberation Serif", serif' font-size="6.7" fill="#555" textLength="2.85" lengthAdjust="spacingAndGlyphs">O</text>
<text x="161.12" y="358.45" font-family='"Liberation Serif", serif' font-size="6.7" fill="#555" textLength="2.85" lengthAdjust="spacingAndGlyphs">C</text>
<text x="170.42" y="358.45" font-family='"Liberation Serif", serif' font-size="6.7" fill="#555" textLength="2.85" lengthAdjust="spacingAndGlyphs">A</text>
<text x="173.52" y="358.45" font-family='"Liberation Serif", serif' font-size="6.7" fill="#555" textLength="2.85" lengthAdjust="spacingAndGlyphs">U</text>
<text x="176.62" y="358.45" font-family='"Liberation Serif", serif' font-size="6.7" fill="#555" textLength="2.85" lengthAdjust="spacingAndGlyphs">C</text>
<text x="182.82" y="358.45" font-family='"Liberation Serif", serif' font-size="6.7" fill="#555" textLength="2.85" lengthAdjust="spacingAndGlyphs">=</text>
<text x="189.02" y="358.45" font-family='"Liberation Serif", serif' font-size="6.7" fill="#555" textLength="2.85" lengthAdjust="spacingAndGlyphs">0</text>
<text x="195.22" y="358.45" font-family='"Liberation Serif", serif' font-size="6.7" fill="#555" textLength="2.85" lengthAdjust="spacingAndGlyphs">7</text>
<text x="198.32" y="358.45" font-family='"Liberation Serif", serif' font-size="6.7" fill="#555" textLength="2.85" lengthAdjust="spacingAndGlyphs">0</text>
<text x="201.42" y="358.45" font-family='"Liberation Serif", serif' font-size="6.7" fill="#555" textLength="2.85" lengthAdjust="spacingAndGlyphs">7</text>
<text x="68.6" y="207" font-family='"Liberation Serif", serif' font-size="8.6" text-anchor="start" fill="#333" font-weight="normal" textLength="109.5" lengthAdjust="spacingAndGlyphs">Left foramen stenosis classification</text>
<text x="-0.2" y="206" font-family='"Liberation Serif", serif' font-size="20.5" text-anchor="start" fill="#111" font-weight="normal" stroke="#111" stroke-width="0.15">c</text>
<polygon points="145.7,297.2 155.21,304.11 151.58,315.29 139.82,315.29 136.19,304.11" fill="none" stroke="#505050" stroke-width="0.5" stroke-linejoin="round"/>
<polygon points="145.7,287.2 164.72,301.02 157.46,323.38 133.94,323.38 126.68,301.02" fill="none" stroke="#505050" stroke-width="0.5" stroke-linejoin="round"/>
<polygon points="145.7,277.2 174.23,297.93 163.33,331.47 128.07,331.47 117.17,297.93" fill="none" stroke="#505050" stroke-width="0.5" stroke-linejoin="round"/>
<polygon points="145.7,267.2 183.74,294.84 169.21,339.56 122.19,339.56 107.66,294.84" fill="none" stroke="#505050" stroke-width="0.5" stroke-linejoin="round"/>
<polygon points="145.7,257.2 193.25,291.75 175.09,347.65 116.31,347.65 98.15,291.75" fill="none" stroke="#505050" stroke-width="0.5" stroke-linejoin="round"/>
<line x1="145.7" y1="307.2" x2="193.25" y2="291.75" stroke="#505050" stroke-width="0.5"/>
<line x1="145.7" y1="307.2" x2="175.09" y2="347.65" stroke="#505050" stroke-width="0.5"/>
<line x1="145.7" y1="307.2" x2="116.31" y2="347.65" stroke="#505050" stroke-width="0.5"/>
<line x1="145.7" y1="307.2" x2="98.15" y2="291.75" stroke="#505050" stroke-width="0.5"/>
<line x1="145.7" y1="307.2" x2="145.7" y2="257.2" stroke="#c8c8c8" stroke-width="1.3"/>
<text x="144.9" y="311.1" font-family='"Liberation Serif", serif' font-size="5.3" text-anchor="end" fill="#3a3a3a" font-weight="bold" textLength="4.6" lengthAdjust="spacingAndGlyphs">0%</text>
<text x="144.9" y="301.1" font-family='"Liberation Serif", serif' font-size="5.3" text-anchor="end" fill="#3a3a3a" font-weight="bold" textLength="6.9" lengthAdjust="spacingAndGlyphs">20%</text>
<text x="144.9" y="291.1" font-family='"Liberation Serif", serif' font-size="5.3" text-anchor="end" fill="#3a3a3a" font-weight="bold" textLength="6.9" lengthAdjust="spacingAndGlyphs">40%</text>
<text x="144.9" y="281.1" font-family='"Liberation Serif", serif' font-size="5.3" text-anchor="end" fill="#3a3a3a" font-weight="bold" textLength="6.9" lengthAdjust="spacingAndGlyphs">60%</text>
<text x="144.9" y="271.1" font-family='"Liberation Serif", serif' font-size="5.3" text-anchor="end" fill="#3a3a3a" font-weight="bold" textLength="6.9" lengthAdjust="spacingAndGlyphs">80%</text>
<text x="144.9" y="261.1" font-family='"Liberation Serif", serif' font-size="5.3" text-anchor="end" fill="#3a3a3a" font-weight="bold" textLength="9.2" lengthAdjust="spacingAndGlyphs">100%</text>
<polygon points="145.7,272.7 175.18,297.62 169.51,339.97 125.42,335.11 109.7,295.5" fill="none" stroke="#f05a22" stroke-width="0.9" stroke-linejoin="round"/>
<rect x="144.4" y="271.4" width="2.6" height="2.6" fill="#f05a22"/>
<rect x="173.88" y="296.32" width="2.6" height="2.6" fill="#f05a22"/>
<rect x="168.21" y="338.67" width="2.6" height="2.6" fill="#f05a22"/>
<rect x="124.12" y="333.81" width="2.6" height="2.6" fill="#f05a22"/>
<rect x="108.4" y="294.2" width="2.6" height="2.6" fill="#f05a22"/>
<polygon points="145.7,270.2 177.56,296.85 169.21,339.56 124.25,336.73 108.61,295.15" fill="none" stroke="#52d8c8" stroke-width="0.9" stroke-linejoin="round"/>
<rect x="144.55" y="269.05" width="2.3" height="2.3" fill="#52d8c8"/>
<rect x="176.41" y="295.7" width="2.3" height="2.3" fill="#52d8c8"/>
<rect x="168.06" y="338.41" width="2.3" height="2.3" fill="#52d8c8"/>
<rect x="123.1" y="335.58" width="2.3" height="2.3" fill="#52d8c8"/>
<rect x="107.46" y="294" width="2.3" height="2.3" fill="#52d8c8"/>
<text x="137.49 140.35 146.42 148.94 151.8" y="254.5" font-family='"Liberation Serif", serif' font-size="6.1" fill="#555" font-style="italic">ccrac</text>
<text x="134.66" y="254.5" font-family='"Liberation Serif", serif' font-size="6.1" fill="#555" textLength="2.63" lengthAdjust="spacingAndGlyphs" font-style="italic">A</text>
<text x="143.25" y="254.5" font-family='"Liberation Serif", serif' font-size="6.1" fill="#555" textLength="2.63" lengthAdjust="spacingAndGlyphs" font-style="italic">u</text>
<text x="154.7" y="254.5" font-family='"Liberation Serif", serif' font-size="6.1" fill="#555" textLength="2.63" lengthAdjust="spacingAndGlyphs" font-style="italic">y</text>
<text x="193.36 199.27 202.48 205.35 208.23 213.97 216.84" y="289.1" font-family='"Liberation Serif", serif' font-size="6.1" fill="#555">esitiit</text>
<text x="190.51" y="289.1" font-family='"Liberation Serif", serif' font-size="6.1" fill="#555" textLength="2.64" lengthAdjust="spacingAndGlyphs">S</text>
<text x="196.26" y="289.1" font-family='"Liberation Serif", serif' font-size="6.1" fill="#555" textLength="2.64" lengthAdjust="spacingAndGlyphs">n</text>
<text x="210.62" y="289.1" font-family='"Liberation Serif", serif' font-size="6.1" fill="#555" textLength="2.64" lengthAdjust="spacingAndGlyphs">v</text>
<text x="219.24" y="289.1" font-family='"Liberation Serif", serif' font-size="6.1" fill="#555" textLength="2.64" lengthAdjust="spacingAndGlyphs">y</text>
<text x="185.22 188.13 191.54 194.28 197.36 199.76 203.18 206.09" y="347" font-family='"Liberation Serif", serif' font-size="6.1" fill="#555">ecificit</text>
<text x="179.42" y="347" font-family='"Liberation Serif", serif' font-size="6.1" fill="#555" textLength="2.68" lengthAdjust="spacingAndGlyphs">S</text>
<text x="182.33" y="347" font-family='"Liberation Serif", serif' font-size="6.1" fill="#555" textLength="2.68" lengthAdjust="spacingAndGlyphs">p</text>
<text x="208.51" y="347" font-family='"Liberation Serif", serif' font-size="6.1" fill="#555" textLength="2.68" lengthAdjust="spacingAndGlyphs">y</text>
<text x="99.47 105.68 108.28" y="347" font-family='"Liberation Serif", serif' font-size="6.1" fill="#555">cre</text>
<text x="87.72" y="347" font-family='"Liberation Serif", serif' font-size="6.1" fill="#555" textLength="2.7" lengthAdjust="spacingAndGlyphs">F</text>
<text x="90.66" y="347" font-family='"Liberation Serif", serif' font-size="6.1" fill="#555" textLength="2.7" lengthAdjust="spacingAndGlyphs">1</text>
<text x="96.53" y="347" font-family='"Liberation Serif", serif' font-size="6.1" fill="#555" textLength="2.7" lengthAdjust="spacingAndGlyphs">S</text>
<text x="102.41" y="347" font-family='"Liberation Serif", serif' font-size="6.1" fill="#555" textLength="2.7" lengthAdjust="spacingAndGlyphs">o</text>
<text x="71.7 74.24 77.12 80.5 83.04 86.26" y="295.2" font-family='"Liberation Serif", serif' font-size="6.1" fill="#555">recisi</text>
<text x="68.52" y="295.2" font-family='"Liberation Serif", serif' font-size="6.1" fill="#555" textLength="2.65" lengthAdjust="spacingAndGlyphs">P</text>
<text x="88.66" y="295.2" font-family='"Liberation Serif", serif' font-size="6.1" fill="#555" textLength="2.65" lengthAdjust="spacingAndGlyphs">o</text>
<text x="91.54" y="295.2" font-family='"Liberation Serif", serif' font-size="6.1" fill="#555" textLength="2.65" lengthAdjust="spacingAndGlyphs">n</text>
<polyline points="252.8,364.1 253.8,360.1 257.6,360.1 257.6,352.5 262.2,352.5 262.7,344.9 267.3,334.7 267.3,320.8 272.8,315.7 277.3,309.3 277.3,281.4 282,281.4 282.3,277.6 286.7,277.4 292,273.1 295.3,270.7 296.1,266.3 323.5,266.3 333.2,260.8 334.6,255.2 359.6,255.2 363.7,251.1 363.7,242.7 372.1,242.2 374.3,231.6 378.2,231.1 379,227.5 406.7,227.5 410.9,224.7 422,224.7 423.4,219.2 433.1,218.3 436.4,215.6" fill="none" stroke="#6ef9ff" stroke-width="1.5" stroke-linejoin="round"/>
<rect x="252.8" y="215.6" width="184.6" height="148.5" fill="none" stroke="#3a3a3a" stroke-width="1.1"/>
<line x1="252.8" y1="364.1" x2="252.8" y2="366.9" stroke="#3a3a3a" stroke-width="0.9"/>
<line x1="252.8" y1="364.1" x2="250" y2="364.1" stroke="#3a3a3a" stroke-width="0.9"/>
<text x="243.04" y="366.3" font-family='"Liberation Serif", serif' font-size="6.5" fill="#555">.</text>
<text x="239.32" y="366.3" font-family='"Liberation Serif", serif' font-size="6.5" fill="#555" textLength="2.85" lengthAdjust="spacingAndGlyphs">0</text>
<text x="245.52" y="366.3" font-family='"Liberation Serif", serif' font-size="6.5" fill="#555" textLength="2.85" lengthAdjust="spacingAndGlyphs">0</text>
<text x="252.19" y="374.5" font-family='"Liberation Serif", serif' font-size="6.5" fill="#555">.</text>
<text x="248.47" y="374.5" font-family='"Liberation Serif", serif' font-size="6.5" fill="#555" textLength="2.85" lengthAdjust="spacingAndGlyphs">0</text>
<text x="254.67" y="374.5" font-family='"Liberation Serif", serif' font-size="6.5" fill="#555" textLength="2.85" lengthAdjust="spacingAndGlyphs">0</text>
<line x1="271.26" y1="364.1" x2="271.26" y2="365.8" stroke="#3a3a3a" stroke-width="0.9"/>
<line x1="271.26" y1="215.6" x2="271.26" y2="217.3" stroke="#3a3a3a" stroke-width="0.9"/>
<line x1="252.8" y1="349.25" x2="251.1" y2="349.25" stroke="#3a3a3a" stroke-width="0.9"/>
<line x1="437.4" y1="349.25" x2="435.7" y2="349.25" stroke="#3a3a3a" stroke-width="0.9"/>
<line x1="289.72" y1="364.1" x2="289.72" y2="366.9" stroke="#3a3a3a" stroke-width="0.9"/>
<line x1="289.72" y1="215.6" x2="289.72" y2="218.4" stroke="#3a3a3a" stroke-width="0.9"/>
<line x1="252.8" y1="334.4" x2="250" y2="334.4" stroke="#3a3a3a" stroke-width="0.9"/>
<line x1="437.4" y1="334.4" x2="434.6" y2="334.4" stroke="#3a3a3a" stroke-width="0.9"/>
<text x="243.04" y="336.6" font-family='"Liberation Serif", serif' font-size="6.5" fill="#555">.</text>
<text x="239.32" y="336.6" font-family='"Liberation Serif", serif' font-size="6.5" fill="#555" textLength="2.85" lengthAdjust="spacingAndGlyphs">0</text>
<text x="245.52" y="336.6" font-family='"Liberation Serif", serif' font-size="6.5" fill="#555" textLength="2.85" lengthAdjust="spacingAndGlyphs">2</text>
<text x="289.11" y="374.5" font-family='"Liberation Serif", serif' font-size="6.5" fill="#555">.</text>
<text x="285.39" y="374.5" font-family='"Liberation Serif", serif' font-size="6.5" fill="#555" textLength="2.85" lengthAdjust="spacingAndGlyphs">0</text>
<text x="291.59" y="374.5" font-family='"Liberation Serif", serif' font-size="6.5" fill="#555" textLength="2.85" lengthAdjust="spacingAndGlyphs">2</text>
<line x1="308.18" y1="364.1" x2="308.18" y2="365.8" stroke="#3a3a3a" stroke-width="0.9"/>
<line x1="308.18" y1="215.6" x2="308.18" y2="217.3" stroke="#3a3a3a" stroke-width="0.9"/>
<line x1="252.8" y1="319.55" x2="251.1" y2="319.55" stroke="#3a3a3a" stroke-width="0.9"/>
<line x1="437.4" y1="319.55" x2="435.7" y2="319.55" stroke="#3a3a3a" stroke-width="0.9"/>
<line x1="326.64" y1="364.1" x2="326.64" y2="366.9" stroke="#3a3a3a" stroke-width="0.9"/>
<line x1="326.64" y1="215.6" x2="326.64" y2="218.4" stroke="#3a3a3a" stroke-width="0.9"/>
<line x1="252.8" y1="304.7" x2="250" y2="304.7" stroke="#3a3a3a" stroke-width="0.9"/>
<line x1="437.4" y1="304.7" x2="434.6" y2="304.7" stroke="#3a3a3a" stroke-width="0.9"/>
<text x="243.04" y="306.9" font-family='"Liberation Serif", serif' font-size="6.5" fill="#555">.</text>
<text x="239.32" y="306.9" font-family='"Liberation Serif", serif' font-size="6.5" fill="#555" textLength="2.85" lengthAdjust="spacingAndGlyphs">0</text>
<text x="245.52" y="306.9" font-family='"Liberation Serif", serif' font-size="6.5" fill="#555" textLength="2.85" lengthAdjust="spacingAndGlyphs">4</text>
<text x="326.03" y="374.5" font-family='"Liberation Serif", serif' font-size="6.5" fill="#555">.</text>
<text x="322.31" y="374.5" font-family='"Liberation Serif", serif' font-size="6.5" fill="#555" textLength="2.85" lengthAdjust="spacingAndGlyphs">0</text>
<text x="328.51" y="374.5" font-family='"Liberation Serif", serif' font-size="6.5" fill="#555" textLength="2.85" lengthAdjust="spacingAndGlyphs">4</text>
<line x1="345.1" y1="364.1" x2="345.1" y2="365.8" stroke="#3a3a3a" stroke-width="0.9"/>
<line x1="345.1" y1="215.6" x2="345.1" y2="217.3" stroke="#3a3a3a" stroke-width="0.9"/>
<line x1="252.8" y1="289.85" x2="251.1" y2="289.85" stroke="#3a3a3a" stroke-width="0.9"/>
<line x1="437.4" y1="289.85" x2="435.7" y2="289.85" stroke="#3a3a3a" stroke-width="0.9"/>
<line x1="363.56" y1="364.1" x2="363.56" y2="366.9" stroke="#3a3a3a" stroke-width="0.9"/>
<line x1="363.56" y1="215.6" x2="363.56" y2="218.4" stroke="#3a3a3a" stroke-width="0.9"/>
<line x1="252.8" y1="275" x2="250" y2="275" stroke="#3a3a3a" stroke-width="0.9"/>
<line x1="437.4" y1="275" x2="434.6" y2="275" stroke="#3a3a3a" stroke-width="0.9"/>
<text x="243.04" y="277.2" font-family='"Liberation Serif", serif' font-size="6.5" fill="#555">.</text>
<text x="239.32" y="277.2" font-family='"Liberation Serif", serif' font-size="6.5" fill="#555" textLength="2.85" lengthAdjust="spacingAndGlyphs">0</text>
<text x="245.52" y="277.2" font-family='"Liberation Serif", serif' font-size="6.5" fill="#555" textLength="2.85" lengthAdjust="spacingAndGlyphs">6</text>
<text x="362.95" y="374.5" font-family='"Liberation Serif", serif' font-size="6.5" fill="#555">.</text>
<text x="359.23" y="374.5" font-family='"Liberation Serif", serif' font-size="6.5" fill="#555" textLength="2.85" lengthAdjust="spacingAndGlyphs">0</text>
<text x="365.43" y="374.5" font-family='"Liberation Serif", serif' font-size="6.5" fill="#555" textLength="2.85" lengthAdjust="spacingAndGlyphs">6</text>
<line x1="382.02" y1="364.1" x2="382.02" y2="365.8" stroke="#3a3a3a" stroke-width="0.9"/>
<line x1="382.02" y1="215.6" x2="382.02" y2="217.3" stroke="#3a3a3a" stroke-width="0.9"/>
<line x1="252.8" y1="260.15" x2="251.1" y2="260.15" stroke="#3a3a3a" stroke-width="0.9"/>
<line x1="437.4" y1="260.15" x2="435.7" y2="260.15" stroke="#3a3a3a" stroke-width="0.9"/>
<line x1="400.48" y1="364.1" x2="400.48" y2="366.9" stroke="#3a3a3a" stroke-width="0.9"/>
<line x1="400.48" y1="215.6" x2="400.48" y2="218.4" stroke="#3a3a3a" stroke-width="0.9"/>
<line x1="252.8" y1="245.3" x2="250" y2="245.3" stroke="#3a3a3a" stroke-width="0.9"/>
<line x1="437.4" y1="245.3" x2="434.6" y2="245.3" stroke="#3a3a3a" stroke-width="0.9"/>
<text x="243.04" y="247.5" font-family='"Liberation Serif", serif' font-size="6.5" fill="#555">.</text>
<text x="239.32" y="247.5" font-family='"Liberation Serif", serif' font-size="6.5" fill="#555" textLength="2.85" lengthAdjust="spacingAndGlyphs">0</text>
<text x="245.52" y="247.5" font-family='"Liberation Serif", serif' font-size="6.5" fill="#555" textLength="2.85" lengthAdjust="spacingAndGlyphs">8</text>
<text x="399.87" y="374.5" font-family='"Liberation Serif", serif' font-size="6.5" fill="#555">.</text>
<text x="396.15" y="374.5" font-family='"Liberation Serif", serif' font-size="6.5" fill="#555" textLength="2.85" lengthAdjust="spacingAndGlyphs">0</text>
<text x="402.35" y="374.5" font-family='"Liberation Serif", serif' font-size="6.5" fill="#555" textLength="2.85" lengthAdjust="spacingAndGlyphs">8</text>
<line x1="418.94" y1="364.1" x2="418.94" y2="365.8" stroke="#3a3a3a" stroke-width="0.9"/>
<line x1="418.94" y1="215.6" x2="418.94" y2="217.3" stroke="#3a3a3a" stroke-width="0.9"/>
<line x1="252.8" y1="230.45" x2="251.1" y2="230.45" stroke="#3a3a3a" stroke-width="0.9"/>
<line x1="437.4" y1="230.45" x2="435.7" y2="230.45" stroke="#3a3a3a" stroke-width="0.9"/>
<line x1="437.4" y1="364.1" x2="437.4" y2="366.9" stroke="#3a3a3a" stroke-width="0.9"/>
<line x1="252.8" y1="215.6" x2="250" y2="215.6" stroke="#3a3a3a" stroke-width="0.9"/>
<text x="243.04" y="217.8" font-family='"Liberation Serif", serif' font-size="6.5" fill="#555">.</text>
<text x="239.32" y="217.8" font-family='"Liberation Serif", serif' font-size="6.5" fill="#555" textLength="2.85" lengthAdjust="spacingAndGlyphs">1</text>
<text x="245.52" y="217.8" font-family='"Liberation Serif", serif' font-size="6.5" fill="#555" textLength="2.85" lengthAdjust="spacingAndGlyphs">0</text>
<text x="436.79" y="374.5" font-family='"Liberation Serif", serif' font-size="6.5" fill="#555">.</text>
<text x="433.07" y="374.5" font-family='"Liberation Serif", serif' font-size="6.5" fill="#555" textLength="2.85" lengthAdjust="spacingAndGlyphs">1</text>
<text x="439.27" y="374.5" font-family='"Liberation Serif", serif' font-size="6.5" fill="#555" textLength="2.85" lengthAdjust="spacingAndGlyphs">0</text>
<text x="324.76 335.78 339.6 344.04 347.65 351.68 354.86 359.31 363.12" y="385" font-family='"Liberation Serif", serif' font-size="7.6" fill="#555">-ecificit</text>
<text x="320.45" y="385" font-family='"Liberation Serif", serif' font-size="7.6" fill="#555" textLength="3.51" lengthAdjust="spacingAndGlyphs">1</text>
<text x="328.08" y="385" font-family='"Liberation Serif", serif' font-size="7.6" fill="#555" textLength="3.51" lengthAdjust="spacingAndGlyphs">S</text>
<text x="331.9" y="385" font-family='"Liberation Serif", serif' font-size="7.6" fill="#555" textLength="3.51" lengthAdjust="spacingAndGlyphs">p</text>
<text x="366.24" y="385" font-family='"Liberation Serif", serif' font-size="7.6" fill="#555" textLength="3.51" lengthAdjust="spacingAndGlyphs">y</text>
<g transform="translate(235.6,289.85) rotate(-90)">
<text x="-17.69 -13.9 -9.48 -5.06 -1.06 2.94 6.1 10.94 14.94 18.1" y="0" font-family='"Liberation Serif", serif' font-size="7.6" fill="#555">ensitivity</text>
<text x="-21.84" y="0" font-family='"Liberation Serif", serif' font-size="7.6" fill="#555" textLength="3.68" lengthAdjust="spacingAndGlyphs">S</text>
</g>
<rect x="275.45" y="276.15" width="3.5" height="3.5" fill="#f05a22"/>
<line x1="263.1" y1="229" x2="275.1" y2="229" stroke="#ee5a60" stroke-width="1"/>
<rect x="267.8" y="227.6" width="2.8" height="2.8" fill="#f05a22"/>
<line x1="263.1" y1="235.3" x2="275.1" y2="235.3" stroke="#7ef0f4" stroke-width="1"/>
<rect x="267.9" y="234.05" width="2.5" height="2.5" fill="#3adbe8"/>
<text x="281.1 284.13 290.19 299.28 314.43 320.3" y="231.3" font-family='"Liberation Serif", serif' font-size="6.8" fill="#555">liiltr</text>
<text x="277.62" y="231.3" font-family='"Liberation Serif", serif' font-size="6.8" fill="#555" textLength="2.79" lengthAdjust="spacingAndGlyphs">C</text>
<text x="286.71" y="231.3" font-family='"Liberation Serif", serif' font-size="6.8" fill="#555" textLength="2.79" lengthAdjust="spacingAndGlyphs">n</text>
<text x="292.77" y="231.3" font-family='"Liberation Serif", serif' font-size="6.8" fill="#555" textLength="2.79" lengthAdjust="spacingAndGlyphs">c</text>
<text x="295.8" y="231.3" font-family='"Liberation Serif", serif' font-size="6.8" fill="#555" textLength="2.79" lengthAdjust="spacingAndGlyphs">a</text>
<text x="304.89" y="231.3" font-family='"Liberation Serif", serif' font-size="6.8" fill="#555" textLength="2.79" lengthAdjust="spacingAndGlyphs">D</text>
<text x="307.92" y="231.3" font-family='"Liberation Serif", serif' font-size="6.8" fill="#555" textLength="2.79" lengthAdjust="spacingAndGlyphs">o</text>
<text x="310.95" y="231.3" font-family='"Liberation Serif", serif' font-size="6.8" fill="#555" textLength="2.79" lengthAdjust="spacingAndGlyphs">c</text>
<text x="317.01" y="231.3" font-family='"Liberation Serif", serif' font-size="6.8" fill="#555" textLength="2.79" lengthAdjust="spacingAndGlyphs">o</text>
<text x="283.94 302.31" y="237.6" font-family='"Liberation Serif", serif' font-size="6.8" fill="#555">rl</text>
<text x="277.62" y="237.6" font-family='"Liberation Serif", serif' font-size="6.8" fill="#555" textLength="2.79" lengthAdjust="spacingAndGlyphs">O</text>
<text x="280.65" y="237.6" font-family='"Liberation Serif", serif' font-size="6.8" fill="#555" textLength="2.79" lengthAdjust="spacingAndGlyphs">u</text>
<text x="289.74" y="237.6" font-family='"Liberation Serif", serif' font-size="6.8" fill="#555" textLength="2.79" lengthAdjust="spacingAndGlyphs">M</text>
<text x="292.77" y="237.6" font-family='"Liberation Serif", serif' font-size="6.8" fill="#555" textLength="2.79" lengthAdjust="spacingAndGlyphs">o</text>
<text x="295.8" y="237.6" font-family='"Liberation Serif", serif' font-size="6.8" fill="#555" textLength="2.79" lengthAdjust="spacingAndGlyphs">d</text>
<text x="298.83" y="237.6" font-family='"Liberation Serif", serif' font-size="6.8" fill="#555" textLength="2.79" lengthAdjust="spacingAndGlyphs">e</text>
<rect x="360" y="351.5" width="71.6" height="8" fill="#fff" stroke="#777" stroke-width="0.6"/>
<line x1="360.8" y1="355.5" x2="373.8" y2="355.5" stroke="#6ef9ff" stroke-width="1.3"/>
<text x="389.63 414.71 426.83" y="357.8" font-family='"Liberation Serif", serif' font-size="6.7" fill="#555">(.)</text>
<text x="376.92" y="357.8" font-family='"Liberation Serif", serif' font-size="6.7" fill="#555" textLength="2.85" lengthAdjust="spacingAndGlyphs">R</text>
<text x="380.02" y="357.8" font-family='"Liberation Serif", serif' font-size="6.7" fill="#555" textLength="2.85" lengthAdjust="spacingAndGlyphs">O</text>
<text x="383.12" y="357.8" font-family='"Liberation Serif", serif' font-size="6.7" fill="#555" textLength="2.85" lengthAdjust="spacingAndGlyphs">C</text>
<text x="392.42" y="357.8" font-family='"Liberation Serif", serif' font-size="6.7" fill="#555" textLength="2.85" lengthAdjust="spacingAndGlyphs">A</text>
<text x="395.52" y="357.8" font-family='"Liberation Serif", serif' font-size="6.7" fill="#555" textLength="2.85" lengthAdjust="spacingAndGlyphs">U</text>
<text x="398.62" y="357.8" font-family='"Liberation Serif", serif' font-size="6.7" fill="#555" textLength="2.85" lengthAdjust="spacingAndGlyphs">C</text>
<text x="404.82" y="357.8" font-family='"Liberation Serif", serif' font-size="6.7" fill="#555" textLength="2.85" lengthAdjust="spacingAndGlyphs">=</text>
<text x="411.02" y="357.8" font-family='"Liberation Serif", serif' font-size="6.7" fill="#555" textLength="2.85" lengthAdjust="spacingAndGlyphs">0</text>
<text x="417.22" y="357.8" font-family='"Liberation Serif", serif' font-size="6.7" fill="#555" textLength="2.85" lengthAdjust="spacingAndGlyphs">7</text>
<text x="420.32" y="357.8" font-family='"Liberation Serif", serif' font-size="6.7" fill="#555" textLength="2.85" lengthAdjust="spacingAndGlyphs">0</text>
<text x="423.42" y="357.8" font-family='"Liberation Serif", serif' font-size="6.7" fill="#555" textLength="2.85" lengthAdjust="spacingAndGlyphs">5</text>
<text x="288.3" y="207" font-family='"Liberation Serif", serif' font-size="8.6" text-anchor="start" fill="#333" font-weight="normal" textLength="113.2" lengthAdjust="spacingAndGlyphs">Right foramen stenosis classification</text>
<text x="213.4" y="205.5" font-family='"Liberation Serif", serif' font-size="21.8" text-anchor="start" fill="#111" font-weight="normal" stroke="#111" stroke-width="0.15">d</text>
<polygon points="351,295.9 360.61,302.88 356.94,314.17 345.06,314.17 341.39,302.88" fill="none" stroke="#7a7a7a" stroke-width="0.5" stroke-linejoin="round"/>
<polygon points="351,285.8 370.21,299.76 362.87,322.34 339.13,322.34 331.79,299.76" fill="none" stroke="#7a7a7a" stroke-width="0.5" stroke-linejoin="round"/>
<polygon points="351,275.7 379.82,296.64 368.81,330.51 333.19,330.51 322.18,296.64" fill="none" stroke="#7a7a7a" stroke-width="0.5" stroke-linejoin="round"/>
<polygon points="351,265.6 389.42,293.52 374.75,338.68 327.25,338.68 312.58,293.52" fill="none" stroke="#7a7a7a" stroke-width="0.5" stroke-linejoin="round"/>
<polygon points="351,255.5 399.03,290.39 380.68,346.86 321.32,346.86 302.97,290.39" fill="none" stroke="#7a7a7a" stroke-width="0.5" stroke-linejoin="round"/>
<line x1="351" y1="306" x2="399.03" y2="290.39" stroke="#7a7a7a" stroke-width="0.5"/>
<line x1="351" y1="306" x2="380.68" y2="346.86" stroke="#7a7a7a" stroke-width="0.5"/>
<line x1="351" y1="306" x2="321.32" y2="346.86" stroke="#7a7a7a" stroke-width="0.5"/>
<line x1="351" y1="306" x2="302.97" y2="290.39" stroke="#7a7a7a" stroke-width="0.5"/>
<line x1="351" y1="306" x2="351" y2="255.5" stroke="#c8c8c8" stroke-width="1.3"/>
<text x="350.2" y="309.9" font-family='"Liberation Serif", serif' font-size="5.3" text-anchor="end" fill="#3a3a3a" font-weight="bold" textLength="4.6" lengthAdjust="spacingAndGlyphs">0%</text>
<text x="350.2" y="299.8" font-family='"Liberation Serif", serif' font-size="5.3" text-anchor="end" fill="#3a3a3a" font-weight="bold" textLength="6.9" lengthAdjust="spacingAndGlyphs">20%</text>
<text x="350.2" y="289.7" font-family='"Liberation Serif", serif' font-size="5.3" text-anchor="end" fill="#3a3a3a" font-weight="bold" textLength="6.9" lengthAdjust="spacingAndGlyphs">40%</text>
<text x="350.2" y="279.6" font-family='"Liberation Serif", serif' font-size="5.3" text-anchor="end" fill="#3a3a3a" font-weight="bold" textLength="6.9" lengthAdjust="spacingAndGlyphs">60%</text>
<text x="350.2" y="269.5" font-family='"Liberation Serif", serif' font-size="5.3" text-anchor="end" fill="#3a3a3a" font-weight="bold" textLength="6.9" lengthAdjust="spacingAndGlyphs">80%</text>
<text x="350.2" y="259.4" font-family='"Liberation Serif", serif' font-size="5.3" text-anchor="end" fill="#3a3a3a" font-weight="bold" textLength="9.2" lengthAdjust="spacingAndGlyphs">100%</text>
<polygon points="351,270.14 378.38,297.1 376.82,341.54 330.82,333.78 311.62,293.2" fill="none" stroke="#ee5a60" stroke-width="0.9" stroke-linejoin="round"/>
<rect x="349.7" y="268.84" width="2.6" height="2.6" fill="#f05a22"/>
<rect x="377.08" y="295.8" width="2.6" height="2.6" fill="#f05a22"/>
<rect x="375.52" y="340.24" width="2.6" height="2.6" fill="#f05a22"/>
<rect x="329.52" y="332.48" width="2.6" height="2.6" fill="#f05a22"/>
<rect x="310.32" y="291.9" width="2.6" height="2.6" fill="#f05a22"/>
<polygon points="351,270.9 378.38,297.1 376.23,340.73 331.11,333.37 314.69,294.2" fill="none" stroke="#7ef0f4" stroke-width="0.9" stroke-linejoin="round"/>
<rect x="349.85" y="269.75" width="2.3" height="2.3" fill="#3adbe8"/>
<rect x="377.23" y="295.95" width="2.3" height="2.3" fill="#3adbe8"/>
<rect x="375.08" y="339.58" width="2.3" height="2.3" fill="#3adbe8"/>
<rect x="329.96" y="332.22" width="2.3" height="2.3" fill="#3adbe8"/>
<rect x="313.54" y="293.05" width="2.3" height="2.3" fill="#3adbe8"/>
<text x="370.7" y="260.6" font-family='"Liberation Serif", serif' font-size="6.1" fill="#555" font-style="italic">r</text>
<text x="359.11" y="260.6" font-family='"Liberation Serif", serif' font-size="6.1" fill="#555" textLength="2.6" lengthAdjust="spacingAndGlyphs" font-style="italic">A</text>
<text x="361.94" y="260.6" font-family='"Liberation Serif", serif' font-size="6.1" fill="#555" textLength="2.6" lengthAdjust="spacingAndGlyphs" font-style="italic">c</text>
<text x="364.76" y="260.6" font-family='"Liberation Serif", serif' font-size="6.1" fill="#555" textLength="2.6" lengthAdjust="spacingAndGlyphs" font-style="italic">c</text>
<text x="367.59" y="260.6" font-family='"Liberation Serif", serif' font-size="6.1" fill="#555" textLength="2.6" lengthAdjust="spacingAndGlyphs" font-style="italic">u</text>
<text x="373.24" y="260.6" font-family='"Liberation Serif", serif' font-size="6.1" fill="#555" textLength="2.6" lengthAdjust="spacingAndGlyphs" font-style="italic">a</text>
<text x="376.06" y="260.6" font-family='"Liberation Serif", serif' font-size="6.1" fill="#555" textLength="2.6" lengthAdjust="spacingAndGlyphs" font-style="italic">c</text>
<text x="378.89" y="260.6" font-family='"Liberation Serif", serif' font-size="6.1" fill="#555" textLength="2.6" lengthAdjust="spacingAndGlyphs" font-style="italic">y</text>
<text x="404.7 410.66 413.9 416.8 419.7 425.5 428.4" y="294.9" font-family='"Liberation Serif", serif' font-size="6.1" fill="#555">esitiit</text>
<text x="401.82" y="294.9" font-family='"Liberation Serif", serif' font-size="6.1" fill="#555" textLength="2.67" lengthAdjust="spacingAndGlyphs">S</text>
<text x="407.62" y="294.9" font-family='"Liberation Serif", serif' font-size="6.1" fill="#555" textLength="2.67" lengthAdjust="spacingAndGlyphs">n</text>
<text x="422.12" y="294.9" font-family='"Liberation Serif", serif' font-size="6.1" fill="#555" textLength="2.67" lengthAdjust="spacingAndGlyphs">v</text>
<text x="430.82" y="294.9" font-family='"Liberation Serif", serif' font-size="6.1" fill="#555" textLength="2.67" lengthAdjust="spacingAndGlyphs">y</text>
<text x="396.86 399.53 402.55 408.24 411.08" y="345.6" font-family='"Liberation Serif", serif' font-size="6.1" fill="#555">ifiit</text>
<text x="385.01" y="345.6" font-family='"Liberation Serif", serif' font-size="6.1" fill="#555" textLength="2.62" lengthAdjust="spacingAndGlyphs">S</text>
<text x="387.86" y="345.6" font-family='"Liberation Serif", serif' font-size="6.1" fill="#555" textLength="2.62" lengthAdjust="spacingAndGlyphs">p</text>
<text x="390.7" y="345.6" font-family='"Liberation Serif", serif' font-size="6.1" fill="#555" textLength="2.62" lengthAdjust="spacingAndGlyphs">e</text>
<text x="393.55" y="345.6" font-family='"Liberation Serif", serif' font-size="6.1" fill="#555" textLength="2.62" lengthAdjust="spacingAndGlyphs">c</text>
<text x="404.93" y="345.6" font-family='"Liberation Serif", serif' font-size="6.1" fill="#555" textLength="2.62" lengthAdjust="spacingAndGlyphs">c</text>
<text x="413.47" y="345.6" font-family='"Liberation Serif", serif' font-size="6.1" fill="#555" textLength="2.62" lengthAdjust="spacingAndGlyphs">y</text>
<text x="304.5 310.63 313.2" y="345.6" font-family='"Liberation Serif", serif' font-size="6.1" fill="#555">cre</text>
<text x="292.92" y="345.6" font-family='"Liberation Serif", serif' font-size="6.1" fill="#555" textLength="2.67" lengthAdjust="spacingAndGlyphs">F</text>
<text x="295.82" y="345.6" font-family='"Liberation Serif", serif' font-size="6.1" fill="#555" textLength="2.67" lengthAdjust="spacingAndGlyphs">1</text>
<text x="301.62" y="345.6" font-family='"Liberation Serif", serif' font-size="6.1" fill="#555" textLength="2.67" lengthAdjust="spacingAndGlyphs">S</text>
<text x="307.42" y="345.6" font-family='"Liberation Serif", serif' font-size="6.1" fill="#555" textLength="2.67" lengthAdjust="spacingAndGlyphs">o</text>
<text x="282.53 291 293.43 296.54" y="293.2" font-family='"Liberation Serif", serif' font-size="6.1" fill="#555">risi</text>
<text x="279.51" y="293.2" font-family='"Liberation Serif", serif' font-size="6.1" fill="#555" textLength="2.55" lengthAdjust="spacingAndGlyphs">P</text>
<text x="285.04" y="293.2" font-family='"Liberation Serif", serif' font-size="6.1" fill="#555" textLength="2.55" lengthAdjust="spacingAndGlyphs">e</text>
<text x="287.81" y="293.2" font-family='"Liberation Serif", serif' font-size="6.1" fill="#555" textLength="2.55" lengthAdjust="spacingAndGlyphs">c</text>
<text x="298.88" y="293.2" font-family='"Liberation Serif", serif' font-size="6.1" fill="#555" textLength="2.55" lengthAdjust="spacingAndGlyphs">o</text>
<text x="301.64" y="293.2" font-family='"Liberation Serif", serif' font-size="6.1" fill="#555" textLength="2.55" lengthAdjust="spacingAndGlyphs">n</text>
<rect x="439.8" y="366" width="12" height="21" fill="#fff"/>
<polygon points="555.6,142.2 601.88,159.04 626.51,201.7 617.95,250.2 580.23,281.86 530.97,281.86 493.25,250.2 484.69,201.7 509.32,159.04" fill="none" stroke="#c9c9c9" stroke-width="0.7" stroke-linejoin="round"/>
<polygon points="554.7,153.82 590.8,172.58 622.77,203.6 605.83,245.12 579.33,283.26 535.59,268.1 503.69,245.05 496.13,205.27 513.7,166.73" fill="#7a7a7a" stroke="#7a7a7a" stroke-width="2" stroke-linejoin="round" filter="url(#blur1)" opacity="0.6"/>
<polyline points="581.7,277.2 584.3,267.4 586.7,267.2" fill="none" stroke="#b0b0b0" stroke-width="0.5" stroke-linejoin="round"/>
<polyline points="524.9,269.5 535.3,266.5" fill="none" stroke="#b0b0b0" stroke-width="0.5" stroke-linejoin="round"/>
<polygon points="555.6,152.42 591.7,171.18 623.67,202.2 606.73,243.72 580.23,281.86 536.49,266.7 504.59,243.65 497.03,203.87 514.6,165.33" fill="#bde4ea" stroke="none" stroke-width="0" stroke-linejoin="round"/>
<line x1="555.6" y1="214.2" x2="555.6" y2="142.2" stroke="#a9cdd3" stroke-width="0.5"/>
<line x1="555.6" y1="214.2" x2="601.88" y2="159.04" stroke="#a9cdd3" stroke-width="0.5"/>
<line x1="555.6" y1="214.2" x2="626.51" y2="201.7" stroke="#a9cdd3" stroke-width="0.5"/>
<line x1="555.6" y1="214.2" x2="617.95" y2="250.2" stroke="#a9cdd3" stroke-width="0.5"/>
<line x1="555.6" y1="214.2" x2="580.23" y2="281.86" stroke="#a9cdd3" stroke-width="0.5"/>
<line x1="555.6" y1="214.2" x2="530.97" y2="281.86" stroke="#a9cdd3" stroke-width="0.5"/>
<line x1="555.6" y1="214.2" x2="493.25" y2="250.2" stroke="#a9cdd3" stroke-width="0.5"/>
<line x1="555.6" y1="214.2" x2="484.69" y2="201.7" stroke="#a9cdd3" stroke-width="0.5"/>
<line x1="555.6" y1="214.2" x2="509.32" y2="159.04" stroke="#a9cdd3" stroke-width="0.5"/>
<line x1="555.6" y1="152.42" x2="555.6" y2="142.2" stroke="#cfcfcf" stroke-width="0.6"/>
<line x1="591.7" y1="171.18" x2="601.88" y2="159.04" stroke="#cfcfcf" stroke-width="0.6"/>
<line x1="623.67" y1="202.2" x2="626.51" y2="201.7" stroke="#cfcfcf" stroke-width="0.6"/>
<line x1="606.73" y1="243.72" x2="617.95" y2="250.2" stroke="#cfcfcf" stroke-width="0.6"/>
<line x1="580.23" y1="281.86" x2="580.23" y2="281.86" stroke="#cfcfcf" stroke-width="0.6"/>
<line x1="536.49" y1="266.7" x2="530.97" y2="281.86" stroke="#cfcfcf" stroke-width="0.6"/>
<line x1="504.59" y1="243.65" x2="493.25" y2="250.2" stroke="#cfcfcf" stroke-width="0.6"/>
<line x1="497.03" y1="203.87" x2="484.69" y2="201.7" stroke="#cfcfcf" stroke-width="0.6"/>
<line x1="514.6" y1="165.33" x2="509.32" y2="159.04" stroke="#cfcfcf" stroke-width="0.6"/>
<polygon points="555.6,152.42 591.7,171.18 623.67,202.2 606.73,243.72 580.23,281.86 536.49,266.7 504.59,243.65 497.03,203.87 514.6,165.33" fill="none" stroke="#6657a0" stroke-width="0.8" stroke-linejoin="round"/>
<text x="548.4" y="145" font-family='"Liberation Sans", sans-serif' font-size="6.4" text-anchor="end" fill="#333" font-weight="bold">100%</text>
<text x="548.4" y="159" font-family='"Liberation Sans", sans-serif' font-size="6.4" text-anchor="end" fill="#333" font-weight="bold">80%</text>
<text x="548.4" y="173.4" font-family='"Liberation Sans", sans-serif' font-size="6.4" text-anchor="end" fill="#333" font-weight="bold">60%</text>
<text x="548.4" y="188.1" font-family='"Liberation Sans", sans-serif' font-size="6.4" text-anchor="end" fill="#333" font-weight="bold">40%</text>
<text x="548.4" y="202" font-family='"Liberation Sans", sans-serif' font-size="6.4" text-anchor="end" fill="#333" font-weight="bold">20%</text>
<text x="548.4" y="216.5" font-family='"Liberation Sans", sans-serif' font-size="6.4" text-anchor="end" fill="#333" font-weight="bold">0%</text>
<text x="555.8" y="137.2" font-family='"Liberation Sans", sans-serif' font-size="8.4" text-anchor="middle" fill="#857243" font-weight="normal" textLength="26.4" lengthAdjust="spacingAndGlyphs" stroke="#857243" stroke-width="0.2">Average</text>
<text x="631.3" y="148.1" font-family='"Liberation Sans", sans-serif' font-size="8.4" text-anchor="middle" fill="#857243" font-weight="normal" textLength="49" lengthAdjust="spacingAndGlyphs" stroke="#857243" stroke-width="0.2">Developmental</text>
<text x="630.4" y="159.7" font-family='"Liberation Sans", sans-serif' font-size="8.4" text-anchor="middle" fill="#857243" font-weight="normal" textLength="52.4" lengthAdjust="spacingAndGlyphs" stroke="#857243" stroke-width="0.2">cervical stenosis</text>
<text x="630.7" y="170.8" font-family='"Liberation Sans", sans-serif' font-size="8.4" text-anchor="middle" fill="#857243" font-weight="normal" textLength="42.6" lengthAdjust="spacingAndGlyphs" stroke="#857243" stroke-width="0.2">(Pavlov ratio)</text>
<text x="655.8" y="191.9" font-family='"Liberation Sans", sans-serif' font-size="8.4" text-anchor="middle" fill="#857243" font-weight="normal" textLength="44.9" lengthAdjust="spacingAndGlyphs" stroke="#857243" stroke-width="0.2">Cervical spine</text>
<text x="656" y="204.3" font-family='"Liberation Sans", sans-serif' font-size="8.4" text-anchor="middle" fill="#857243" font-weight="normal" textLength="52.9" lengthAdjust="spacingAndGlyphs" stroke="#857243" stroke-width="0.2">curvature (Cobb</text>
<text x="656.2" y="215.7" font-family='"Liberation Sans", sans-serif' font-size="8.4" text-anchor="middle" fill="#857243" font-weight="normal" textLength="19.8" lengthAdjust="spacingAndGlyphs" stroke="#857243" stroke-width="0.2">angle)</text>
<text x="652.6" y="242.6" font-family='"Liberation Sans", sans-serif' font-size="8.4" text-anchor="middle" fill="#857243" font-weight="normal" textLength="57.4" lengthAdjust="spacingAndGlyphs" stroke="#857243" stroke-width="0.2">Vertebral stability</text>
<text x="652.6" y="254.3" font-family='"Liberation Sans", sans-serif' font-size="8.4" text-anchor="middle" fill="#857243" font-weight="normal" textLength="58.8" lengthAdjust="spacingAndGlyphs" stroke="#857243" stroke-width="0.2">(Spondylolisthesis</text>
<text x="652.6" y="265.9" font-family='"Liberation Sans", sans-serif' font-size="8.4" text-anchor="middle" fill="#857243" font-weight="normal" textLength="63.4" lengthAdjust="spacingAndGlyphs" stroke="#857243" stroke-width="0.2">angle and distance)</text>
<text x="607.6" y="282.1" font-family='"Liberation Sans", sans-serif' font-size="8.4" text-anchor="middle" fill="#857243" font-weight="normal" textLength="44.1" lengthAdjust="spacingAndGlyphs" stroke="#857243" stroke-width="0.2">Sagittal plane</text>
<text x="605.9" y="292.6" font-family='"Liberation Sans", sans-serif' font-size="8.4" text-anchor="middle" fill="#857243" font-weight="normal" textLength="45.3" lengthAdjust="spacingAndGlyphs" stroke="#857243" stroke-width="0.2">balance (SVA)</text>
<text x="487.4" y="287.3" font-family='"Liberation Sans", sans-serif' font-size="8.4" text-anchor="middle" fill="#857243" font-weight="normal" textLength="48.3" lengthAdjust="spacingAndGlyphs" stroke="#857243" stroke-width="0.2">Spinal stenosis</text>
<text x="469.6" y="248.5" font-family='"Liberation Sans", sans-serif' font-size="8.4" text-anchor="middle" fill="#857243" font-weight="normal" textLength="42" lengthAdjust="spacingAndGlyphs" stroke="#857243" stroke-width="0.2">Left foramen</text>
<text x="469.8" y="260.6" font-family='"Liberation Sans", sans-serif' font-size="8.4" text-anchor="middle" fill="#857243" font-weight="normal" textLength="27.6" lengthAdjust="spacingAndGlyphs" stroke="#857243" stroke-width="0.2">stenosis</text>
<text x="456" y="196.7" font-family='"Liberation Sans", sans-serif' font-size="8.4" text-anchor="middle" fill="#857243" font-weight="normal" textLength="50.7" lengthAdjust="spacingAndGlyphs" stroke="#857243" stroke-width="0.2">Right foramen</text>
<text x="455.9" y="209.9" font-family='"Liberation Sans", sans-serif' font-size="8.4" text-anchor="middle" fill="#857243" font-weight="normal" textLength="27.7" lengthAdjust="spacingAndGlyphs" stroke="#857243" stroke-width="0.2">stenosis</text>
<text x="478.4" y="153.6" font-family='"Liberation Sans", sans-serif' font-size="8.4" text-anchor="middle" fill="#857243" font-weight="normal" textLength="58.8" lengthAdjust="spacingAndGlyphs" stroke="#857243" stroke-width="0.2">Intervertebral disc</text>
<text x="477.7" y="165.2" font-family='"Liberation Sans", sans-serif' font-size="8.4" text-anchor="middle" fill="#857243" font-weight="normal" textLength="43.5" lengthAdjust="spacingAndGlyphs" stroke="#857243" stroke-width="0.2">degeneration</text>
<text x="545.7" y="154.3" font-family='"Liberation Sans", sans-serif' font-size="8" text-anchor="start" fill="#ff3030" font-weight="bold" textLength="20.7" lengthAdjust="spacingAndGlyphs" stroke="#ff3030" stroke-width="0.3">85.8%</text>
<text x="588.7" y="168.4" font-family='"Liberation Sans", sans-serif' font-size="8" text-anchor="start" fill="#ff3030" font-weight="bold" textLength="20.7" lengthAdjust="spacingAndGlyphs" stroke="#ff3030" stroke-width="0.3">78.0%</text>
<text x="621" y="216.2" font-family='"Liberation Sans", sans-serif' font-size="8" text-anchor="start" fill="#ff3030" font-weight="bold" textLength="20.6" lengthAdjust="spacingAndGlyphs" stroke="#ff3030" stroke-width="0.3">96.0%</text>
<text x="607.2" y="257.9" font-family='"Liberation Sans", sans-serif' font-size="8" text-anchor="start" fill="#ff3030" font-weight="bold" textLength="20.2" lengthAdjust="spacingAndGlyphs" stroke="#ff3030" stroke-width="0.3">82.0%</text>
<text x="589" y="270.2" font-family='"Liberation Sans", sans-serif' font-size="8" text-anchor="start" fill="#ff3030" font-weight="bold" textLength="24.9" lengthAdjust="spacingAndGlyphs" stroke="#ff3030" stroke-width="0.3">100.0%</text>
<text x="514.4" y="280" font-family='"Liberation Sans", sans-serif' font-size="8" text-anchor="start" fill="#ff3030" font-weight="bold" textLength="20.9" lengthAdjust="spacingAndGlyphs" stroke="#ff3030" stroke-width="0.3">77.6%</text>
<text x="486.5" y="249.8" font-family='"Liberation Sans", sans-serif' font-size="8" text-anchor="start" fill="#ff3030" font-weight="bold" textLength="20.9" lengthAdjust="spacingAndGlyphs" stroke="#ff3030" stroke-width="0.3">81.8%</text>
<text x="478.3" y="213.3" font-family='"Liberation Sans", sans-serif' font-size="8" text-anchor="start" fill="#ff3030" font-weight="bold" textLength="20.7" lengthAdjust="spacingAndGlyphs" stroke="#ff3030" stroke-width="0.3">82.6%</text>
<text x="506" y="164.6" font-family='"Liberation Sans", sans-serif' font-size="8" text-anchor="start" fill="#ff3030" font-weight="bold" textLength="20.6" lengthAdjust="spacingAndGlyphs" stroke="#ff3030" stroke-width="0.3">88.6%</text>
<text x="474.4" y="114.2" font-family='"Liberation Serif", serif' font-size="11" text-anchor="start" fill="#222" font-weight="normal" textLength="160.4" lengthAdjust="spacingAndGlyphs">The Patient Level Diagnostic Accuracy</text>
<text x="451.9" y="109.4" font-family='"Liberation Serif", serif' font-size="16.6" text-anchor="start" fill="#111" font-weight="normal" stroke="#111" stroke-width="0.2">e</text>
</svg>
</body></html>
